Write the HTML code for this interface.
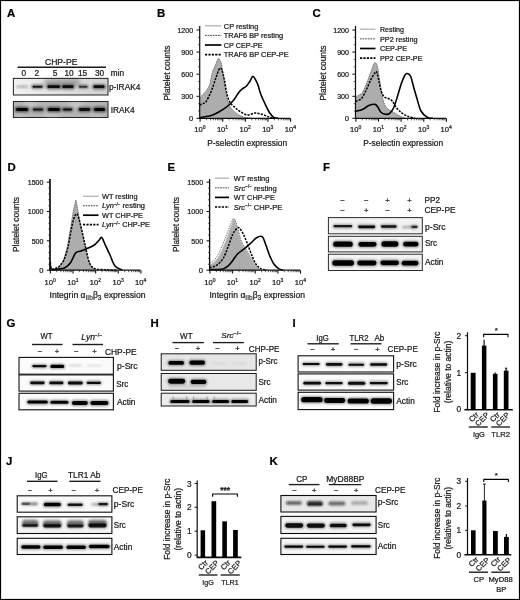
<!DOCTYPE html>
<html lang="en"><head><meta charset="utf-8"><title>Figure</title>
<style>html,body{margin:0;padding:0;background:#fff;overflow:hidden}svg{display:block}svg text{stroke:#222;stroke-width:0.22px;paint-order:stroke}</style>
</head><body>
<svg width="520" height="600" viewBox="0 0 520 600">
<defs><filter id="b1" x="-20%" y="-60%" width="140%" height="220%"><feGaussianBlur stdDeviation="0.7"/></filter><filter id="b2" x="-20%" y="-80%" width="140%" height="260%"><feGaussianBlur stdDeviation="1.2"/></filter><filter id="b3" x="-20%" y="-100%" width="140%" height="300%"><feGaussianBlur stdDeviation="2"/></filter><filter id="soft" x="0" y="0" width="100%" height="100%" filterUnits="userSpaceOnUse"><feGaussianBlur stdDeviation="0.4"/></filter><linearGradient id="gA1" x1="0" x2="1" y1="0" y2="0"><stop offset="0" stop-color="#f2f2f2"/><stop offset="0.45" stop-color="#e0e0e0"/><stop offset="1" stop-color="#d2d2d2"/></linearGradient></defs>
<rect x="0" y="0" width="520" height="600" fill="#fff"/>
<g font-family="Liberation Sans, Arial, Helvetica, sans-serif" fill="#151515" filter="url(#soft)">
<text x="6.90" y="17.10" font-size="11.4" font-weight="bold" fill="#000">A</text>
<text x="156.90" y="17.30" font-size="11.4" font-weight="bold" fill="#000">B</text>
<text x="312.40" y="17.30" font-size="11.4" font-weight="bold" fill="#000">C</text>
<text x="7.40" y="171.10" font-size="11.4" font-weight="bold" fill="#000">D</text>
<text x="167.40" y="171.10" font-size="11.4" font-weight="bold" fill="#000">E</text>
<text x="322.90" y="171.10" font-size="11.4" font-weight="bold" fill="#000">F</text>
<text x="6.40" y="327.00" font-size="11.4" font-weight="bold" fill="#000">G</text>
<text x="150.40" y="327.00" font-size="11.4" font-weight="bold" fill="#000">H</text>
<text x="292.40" y="327.00" font-size="11.4" font-weight="bold" fill="#000">I</text>
<text x="5.90" y="465.10" font-size="11.4" font-weight="bold" fill="#000">J</text>
<text x="269.40" y="465.10" font-size="11.4" font-weight="bold" fill="#000">K</text>
<text x="61.20" y="64.60" font-size="8.3" text-anchor="middle" textLength="32.50" lengthAdjust="spacingAndGlyphs">CHP-PE</text>
<line x1="17.50" y1="67.20" x2="106.00" y2="67.20" stroke="#1a1a1a" stroke-width="1.35" />
<text x="23.80" y="76.10" font-size="8.3" text-anchor="middle">0</text>
<text x="36.80" y="76.10" font-size="8.3" text-anchor="middle">2</text>
<text x="55.00" y="76.10" font-size="8.3" text-anchor="middle">5</text>
<text x="69.00" y="76.10" font-size="8.3" text-anchor="middle">10</text>
<text x="82.50" y="76.10" font-size="8.3" text-anchor="middle">15</text>
<text x="99.50" y="76.10" font-size="8.3" text-anchor="middle">30</text>
<text x="110.80" y="76.10" font-size="8.3" textLength="13.30" lengthAdjust="spacingAndGlyphs">min</text>
<rect x="13.40" y="78.40" width="94.60" height="16.60" fill="url(#gA1)" stroke="#222" stroke-width="1" />
<rect x="44.00" y="79.30" width="36.00" height="6.00" rx="3.00" fill="#000" opacity="0.3" filter="url(#b3)"/>
<rect x="16.00" y="85.60" width="12.00" height="2.40" rx="1.20" fill="#000" opacity="0.25" filter="url(#b2)"/>
<rect x="31.00" y="84.30" width="13.00" height="4.80" rx="2.40" fill="#000" opacity="0.44000000000000006" filter="url(#b2)"/>
<rect x="32.50" y="85.70" width="10.00" height="2.00" rx="1.00" fill="#000" opacity="0.8" filter="url(#b1)"/>
<rect x="46.00" y="83.90" width="15.50" height="5.60" rx="2.80" fill="#000" opacity="0.49500000000000005" filter="url(#b2)"/>
<rect x="47.50" y="85.30" width="12.50" height="2.80" rx="1.40" fill="#000" opacity="0.9" filter="url(#b1)"/>
<rect x="61.00" y="83.90" width="14.00" height="5.60" rx="2.80" fill="#000" opacity="0.5060000000000001" filter="url(#b2)"/>
<rect x="62.50" y="85.30" width="11.00" height="2.80" rx="1.40" fill="#000" opacity="0.92" filter="url(#b1)"/>
<rect x="77.50" y="84.30" width="11.50" height="4.80" rx="2.40" fill="#000" opacity="0.341" filter="url(#b2)"/>
<rect x="79.00" y="85.70" width="8.50" height="2.00" rx="1.00" fill="#000" opacity="0.62" filter="url(#b1)"/>
<rect x="92.00" y="83.90" width="14.00" height="5.60" rx="2.80" fill="#000" opacity="0.49500000000000005" filter="url(#b2)"/>
<rect x="93.50" y="85.30" width="11.00" height="2.80" rx="1.40" fill="#000" opacity="0.9" filter="url(#b1)"/>
<text x="108.90" y="90.00" font-size="8.4" textLength="31.50" lengthAdjust="spacingAndGlyphs">p-IRAK4</text>
<rect x="13.40" y="101.50" width="94.60" height="16.00" fill="#b4b4b4" stroke="#222" stroke-width="1" />
<ellipse cx="30" cy="105" rx="7" ry="2.5" fill="#fff" opacity="0.35" filter="url(#b3)"/>
<ellipse cx="52" cy="114.5" rx="9" ry="2" fill="#fff" opacity="0.3" filter="url(#b3)"/>
<ellipse cx="76" cy="105" rx="8" ry="2.5" fill="#fff" opacity="0.35" filter="url(#b3)"/>
<ellipse cx="96" cy="114.8" rx="7" ry="1.8" fill="#fff" opacity="0.25" filter="url(#b3)"/>
<ellipse cx="20" cy="114.5" rx="5" ry="1.8" fill="#fff" opacity="0.25" filter="url(#b3)"/>
<rect x="14.50" y="106.60" width="15.00" height="5.80" rx="2.90" fill="#000" opacity="0.5225" filter="url(#b2)"/>
<rect x="16.00" y="107.90" width="12.00" height="3.20" rx="1.60" fill="#000" opacity="0.95" filter="url(#b1)"/>
<rect x="31.50" y="107.10" width="13.00" height="4.80" rx="2.40" fill="#000" opacity="0.44000000000000006" filter="url(#b2)"/>
<rect x="33.00" y="108.40" width="10.00" height="2.20" rx="1.10" fill="#000" opacity="0.8" filter="url(#b1)"/>
<rect x="46.50" y="106.60" width="15.00" height="5.80" rx="2.90" fill="#000" opacity="0.5225" filter="url(#b2)"/>
<rect x="48.00" y="107.90" width="12.00" height="3.20" rx="1.60" fill="#000" opacity="0.95" filter="url(#b1)"/>
<rect x="61.50" y="107.10" width="12.00" height="4.80" rx="2.40" fill="#000" opacity="0.4675" filter="url(#b2)"/>
<rect x="63.00" y="108.40" width="9.00" height="2.20" rx="1.10" fill="#000" opacity="0.85" filter="url(#b1)"/>
<rect x="77.50" y="106.80" width="14.00" height="5.40" rx="2.70" fill="#000" opacity="0.49500000000000005" filter="url(#b2)"/>
<rect x="79.00" y="108.10" width="11.00" height="2.80" rx="1.40" fill="#000" opacity="0.9" filter="url(#b1)"/>
<rect x="92.50" y="106.60" width="14.00" height="5.80" rx="2.90" fill="#000" opacity="0.5225" filter="url(#b2)"/>
<rect x="94.00" y="107.90" width="11.00" height="3.20" rx="1.60" fill="#000" opacity="0.95" filter="url(#b1)"/>
<text x="110.70" y="112.90" font-size="8.4" textLength="24.00" lengthAdjust="spacingAndGlyphs">IRAK4</text>
<path d="M199.70,98.10 C200.08,97.67 201.12,96.43 202.00,95.50 C202.88,94.57 204.08,93.58 205.00,92.50 C205.92,91.42 206.67,90.46 207.50,89.00 C208.33,87.54 209.17,86.50 210.00,83.75 C210.83,81.00 211.57,75.62 212.50,72.50 C213.43,69.38 214.67,67.29 215.60,65.00 C216.53,62.71 217.40,59.58 218.10,58.75 C218.80,57.92 219.28,59.17 219.80,60.00 C220.33,60.83 220.70,61.25 221.25,63.75 C221.80,66.25 222.38,70.42 223.10,75.00 C223.82,79.58 224.77,86.67 225.60,91.25 C226.43,95.83 226.95,99.38 228.10,102.50 C229.25,105.62 230.72,107.92 232.50,110.00 C234.28,112.08 236.67,113.75 238.75,115.00 C240.83,116.25 242.79,116.95 245.00,117.50 C247.21,118.05 250.83,118.17 252.00,118.30 L252.00,118.30 L199.70,118.30Z" fill="#adadad" stroke="#b4b4b4" stroke-width="1" stroke-linejoin="round" />
<path d="M199.70,98.10 C200.08,97.67 201.12,96.43 202.00,95.50 C202.88,94.57 204.08,93.58 205.00,92.50 C205.92,91.42 206.67,90.46 207.50,89.00 C208.33,87.54 209.17,86.50 210.00,83.75 C210.83,81.00 211.57,75.62 212.50,72.50 C213.43,69.38 214.67,67.29 215.60,65.00 C216.53,62.71 217.40,59.58 218.10,58.75 C218.80,57.92 219.28,59.17 219.80,60.00 C220.33,60.83 220.70,61.25 221.25,63.75 C221.80,66.25 222.38,70.42 223.10,75.00 C223.82,79.58 224.77,86.67 225.60,91.25 C226.43,95.83 226.95,99.38 228.10,102.50 C229.25,105.62 230.72,107.92 232.50,110.00 C234.28,112.08 236.67,113.75 238.75,115.00 C240.83,116.25 242.79,116.95 245.00,117.50 C247.21,118.05 250.83,118.17 252.00,118.30" fill="none" stroke="#666" stroke-width="0.8" stroke-linejoin="round" stroke-dasharray="1.5 1" />
<path d="M199.70,105.00 C200.25,104.75 201.91,104.12 203.00,103.50 C204.09,102.88 204.88,103.29 206.25,101.25 C207.62,99.21 209.69,95.00 211.25,91.25 C212.81,87.50 214.24,82.50 215.60,78.75 C216.96,75.00 218.35,70.21 219.40,68.75 C220.45,67.29 221.07,68.12 221.90,70.00 C222.73,71.88 223.57,76.04 224.40,80.00 C225.23,83.96 225.97,90.00 226.90,93.75 C227.83,97.50 228.65,100.21 230.00,102.50 C231.35,104.79 233.33,106.00 235.00,107.50 C236.67,109.00 237.92,110.25 240.00,111.50 C242.08,112.75 245.00,114.73 247.50,115.00 C250.00,115.27 252.50,113.20 255.00,113.10 C257.50,113.00 260.21,113.77 262.50,114.40 C264.79,115.03 266.88,116.28 268.75,116.90 C270.62,117.52 272.92,117.90 273.75,118.10" fill="none" stroke="#000" stroke-width="1.5" stroke-linejoin="round" stroke-dasharray="2.2 1.2" />
<path d="M199.70,117.60 C201.62,117.27 207.87,116.66 211.25,115.60 C214.63,114.54 217.29,112.81 220.00,111.25 C222.71,109.69 225.21,108.12 227.50,106.25 C229.79,104.38 231.88,102.29 233.75,100.00 C235.62,97.71 237.29,94.38 238.75,92.50 C240.21,90.62 241.25,89.79 242.50,88.75 C243.75,87.71 245.00,87.50 246.25,86.25 C247.50,85.00 248.86,82.89 250.00,81.25 C251.14,79.61 251.85,75.98 253.10,76.40 C254.35,76.82 256.25,80.86 257.50,83.75 C258.75,86.64 259.35,90.42 260.60,93.75 C261.85,97.08 263.53,100.62 265.00,103.75 C266.47,106.88 267.94,110.24 269.40,112.50 C270.86,114.76 272.32,116.33 273.75,117.30 C275.18,118.27 277.29,118.13 278.00,118.30" fill="none" stroke="#000" stroke-width="1.6" stroke-linejoin="round" />
<line x1="199.70" y1="26.00" x2="199.70" y2="118.90" stroke="#111" stroke-width="1.2" />
<line x1="196.50" y1="30.00" x2="199.70" y2="30.00" stroke="#111" stroke-width="1" />
<text x="193.20" y="32.80" font-size="7.6" text-anchor="end" textLength="15.80" lengthAdjust="spacingAndGlyphs">1200</text>
<line x1="196.50" y1="52.10" x2="199.70" y2="52.10" stroke="#111" stroke-width="1" />
<text x="193.20" y="54.90" font-size="7.6" text-anchor="end" textLength="11.85" lengthAdjust="spacingAndGlyphs">900</text>
<line x1="196.50" y1="74.20" x2="199.70" y2="74.20" stroke="#111" stroke-width="1" />
<text x="193.20" y="77.00" font-size="7.6" text-anchor="end" textLength="11.85" lengthAdjust="spacingAndGlyphs">600</text>
<line x1="196.50" y1="96.30" x2="199.70" y2="96.30" stroke="#111" stroke-width="1" />
<text x="193.20" y="99.10" font-size="7.6" text-anchor="end" textLength="11.85" lengthAdjust="spacingAndGlyphs">300</text>
<line x1="196.50" y1="118.30" x2="199.70" y2="118.30" stroke="#111" stroke-width="1" />
<text x="193.20" y="121.10" font-size="7.6" text-anchor="end">0</text>
<line x1="198.00" y1="37.36" x2="199.70" y2="37.36" stroke="#222" stroke-width="0.7" />
<line x1="198.00" y1="44.72" x2="199.70" y2="44.72" stroke="#222" stroke-width="0.7" />
<line x1="198.00" y1="59.46" x2="199.70" y2="59.46" stroke="#222" stroke-width="0.7" />
<line x1="198.00" y1="66.82" x2="199.70" y2="66.82" stroke="#222" stroke-width="0.7" />
<line x1="198.00" y1="81.56" x2="199.70" y2="81.56" stroke="#222" stroke-width="0.7" />
<line x1="198.00" y1="88.92" x2="199.70" y2="88.92" stroke="#222" stroke-width="0.7" />
<line x1="198.00" y1="103.66" x2="199.70" y2="103.66" stroke="#222" stroke-width="0.7" />
<line x1="198.00" y1="111.02" x2="199.70" y2="111.02" stroke="#222" stroke-width="0.7" />
<line x1="199.10" y1="118.30" x2="290.20" y2="118.30" stroke="#111" stroke-width="1.3" />
<line x1="200.10" y1="118.30" x2="200.10" y2="121.70" stroke="#111" stroke-width="1.1" />
<text x="199.90" y="132.00" font-size="7.6" text-anchor="middle">10<tspan dy="-2.8" font-size="5">0</tspan></text>
<line x1="206.51" y1="118.30" x2="206.51" y2="120.30" stroke="#1a1a1a" stroke-width="0.7" />
<line x1="210.49" y1="118.30" x2="210.49" y2="120.30" stroke="#1a1a1a" stroke-width="0.7" />
<line x1="213.32" y1="118.30" x2="213.32" y2="120.30" stroke="#1a1a1a" stroke-width="0.7" />
<line x1="215.51" y1="118.30" x2="215.51" y2="120.30" stroke="#1a1a1a" stroke-width="0.7" />
<line x1="217.31" y1="118.30" x2="217.31" y2="120.30" stroke="#1a1a1a" stroke-width="0.7" />
<line x1="218.82" y1="118.30" x2="218.82" y2="120.30" stroke="#1a1a1a" stroke-width="0.7" />
<line x1="220.13" y1="118.30" x2="220.13" y2="120.30" stroke="#1a1a1a" stroke-width="0.7" />
<line x1="221.29" y1="118.30" x2="221.29" y2="120.30" stroke="#1a1a1a" stroke-width="0.7" />
<line x1="222.72" y1="118.30" x2="222.72" y2="121.70" stroke="#111" stroke-width="1.1" />
<text x="222.52" y="132.00" font-size="7.6" text-anchor="middle">10<tspan dy="-2.8" font-size="5">1</tspan></text>
<line x1="229.14" y1="118.30" x2="229.14" y2="120.30" stroke="#1a1a1a" stroke-width="0.7" />
<line x1="233.12" y1="118.30" x2="233.12" y2="120.30" stroke="#1a1a1a" stroke-width="0.7" />
<line x1="235.95" y1="118.30" x2="235.95" y2="120.30" stroke="#1a1a1a" stroke-width="0.7" />
<line x1="238.14" y1="118.30" x2="238.14" y2="120.30" stroke="#1a1a1a" stroke-width="0.7" />
<line x1="239.93" y1="118.30" x2="239.93" y2="120.30" stroke="#1a1a1a" stroke-width="0.7" />
<line x1="241.45" y1="118.30" x2="241.45" y2="120.30" stroke="#1a1a1a" stroke-width="0.7" />
<line x1="242.76" y1="118.30" x2="242.76" y2="120.30" stroke="#1a1a1a" stroke-width="0.7" />
<line x1="243.91" y1="118.30" x2="243.91" y2="120.30" stroke="#1a1a1a" stroke-width="0.7" />
<line x1="245.35" y1="118.30" x2="245.35" y2="121.70" stroke="#111" stroke-width="1.1" />
<text x="245.15" y="132.00" font-size="7.6" text-anchor="middle">10<tspan dy="-2.8" font-size="5">2</tspan></text>
<line x1="251.76" y1="118.30" x2="251.76" y2="120.30" stroke="#1a1a1a" stroke-width="0.7" />
<line x1="255.74" y1="118.30" x2="255.74" y2="120.30" stroke="#1a1a1a" stroke-width="0.7" />
<line x1="258.57" y1="118.30" x2="258.57" y2="120.30" stroke="#1a1a1a" stroke-width="0.7" />
<line x1="260.76" y1="118.30" x2="260.76" y2="120.30" stroke="#1a1a1a" stroke-width="0.7" />
<line x1="262.56" y1="118.30" x2="262.56" y2="120.30" stroke="#1a1a1a" stroke-width="0.7" />
<line x1="264.07" y1="118.30" x2="264.07" y2="120.30" stroke="#1a1a1a" stroke-width="0.7" />
<line x1="265.38" y1="118.30" x2="265.38" y2="120.30" stroke="#1a1a1a" stroke-width="0.7" />
<line x1="266.54" y1="118.30" x2="266.54" y2="120.30" stroke="#1a1a1a" stroke-width="0.7" />
<line x1="267.97" y1="118.30" x2="267.97" y2="121.70" stroke="#111" stroke-width="1.1" />
<text x="267.77" y="132.00" font-size="7.6" text-anchor="middle">10<tspan dy="-2.8" font-size="5">3</tspan></text>
<line x1="274.39" y1="118.30" x2="274.39" y2="120.30" stroke="#1a1a1a" stroke-width="0.7" />
<line x1="278.37" y1="118.30" x2="278.37" y2="120.30" stroke="#1a1a1a" stroke-width="0.7" />
<line x1="281.20" y1="118.30" x2="281.20" y2="120.30" stroke="#1a1a1a" stroke-width="0.7" />
<line x1="283.39" y1="118.30" x2="283.39" y2="120.30" stroke="#1a1a1a" stroke-width="0.7" />
<line x1="285.18" y1="118.30" x2="285.18" y2="120.30" stroke="#1a1a1a" stroke-width="0.7" />
<line x1="286.70" y1="118.30" x2="286.70" y2="120.30" stroke="#1a1a1a" stroke-width="0.7" />
<line x1="288.01" y1="118.30" x2="288.01" y2="120.30" stroke="#1a1a1a" stroke-width="0.7" />
<line x1="289.16" y1="118.30" x2="289.16" y2="120.30" stroke="#1a1a1a" stroke-width="0.7" />
<line x1="290.60" y1="118.30" x2="290.60" y2="121.70" stroke="#111" stroke-width="1.1" />
<text x="290.40" y="132.00" font-size="7.6" text-anchor="middle">10<tspan dy="-2.8" font-size="5">4</tspan></text>
<text x="169.60" y="73.00" font-size="8.6" text-anchor="middle" textLength="55.00" lengthAdjust="spacingAndGlyphs" transform="rotate(-90 169.60 73.00)">Platelet counts</text>
<text x="207.20" y="145.90" font-size="8.8" textLength="80.00" lengthAdjust="spacingAndGlyphs">P-selectin expression</text>
<line x1="205.00" y1="25.80" x2="221.30" y2="25.80" stroke="#b8b8b8" stroke-width="1.4" />
<text x="223.80" y="28.50" font-size="7.5" textLength="34.50" lengthAdjust="spacingAndGlyphs">CP resting</text>
<line x1="205.00" y1="35.40" x2="221.30" y2="35.40" stroke="#444" stroke-width="1.0" stroke-dasharray="1.7 0.9"/>
<text x="223.80" y="38.10" font-size="7.5" textLength="59.30" lengthAdjust="spacingAndGlyphs">TRAF6 BP resting</text>
<line x1="205.00" y1="45.00" x2="221.30" y2="45.00" stroke="#000" stroke-width="1.7" />
<text x="223.80" y="47.70" font-size="7.5" textLength="38.80" lengthAdjust="spacingAndGlyphs">CP CEP-PE</text>
<line x1="205.00" y1="54.60" x2="221.30" y2="54.60" stroke="#000" stroke-width="1.6" stroke-dasharray="2.2 1.2"/>
<text x="223.80" y="57.30" font-size="7.5" textLength="64.80" lengthAdjust="spacingAndGlyphs">TRAF6 BP CEP-PE</text>
<path d="M355.50,97.50 C356.08,97.08 357.83,95.83 359.00,95.00 C360.17,94.17 361.08,94.79 362.50,92.50 C363.92,90.21 366.04,84.79 367.50,81.25 C368.96,77.71 370.10,74.28 371.25,71.25 C372.40,68.22 373.46,64.14 374.40,63.10 C375.34,62.06 376.17,63.02 376.90,65.00 C377.62,66.98 378.02,70.62 378.75,75.00 C379.48,79.38 380.42,86.67 381.25,91.25 C382.08,95.83 382.71,99.58 383.75,102.50 C384.79,105.42 385.83,107.08 387.50,108.75 C389.17,110.42 391.67,111.25 393.75,112.50 C395.83,113.75 398.12,115.28 400.00,116.25 C401.88,117.22 404.17,117.96 405.00,118.30 L405.00,118.30 L355.50,118.30Z" fill="#adadad" stroke="#b4b4b4" stroke-width="1" stroke-linejoin="round" />
<path d="M355.50,97.50 C356.08,97.08 357.83,95.83 359.00,95.00 C360.17,94.17 361.08,94.79 362.50,92.50 C363.92,90.21 366.04,84.79 367.50,81.25 C368.96,77.71 370.10,74.28 371.25,71.25 C372.40,68.22 373.46,64.14 374.40,63.10 C375.34,62.06 376.17,63.02 376.90,65.00 C377.62,66.98 378.02,70.62 378.75,75.00 C379.48,79.38 380.42,86.67 381.25,91.25 C382.08,95.83 382.71,99.58 383.75,102.50 C384.79,105.42 385.83,107.08 387.50,108.75 C389.17,110.42 391.67,111.25 393.75,112.50 C395.83,113.75 398.12,115.28 400.00,116.25 C401.88,117.22 404.17,117.96 405.00,118.30" fill="none" stroke="#666" stroke-width="0.8" stroke-linejoin="round" stroke-dasharray="1.5 1" />
<path d="M355.50,101.25 C356.46,100.83 359.46,100.62 361.25,98.75 C363.04,96.88 364.69,93.12 366.25,90.00 C367.81,86.88 369.24,82.71 370.60,80.00 C371.96,77.29 373.42,75.10 374.40,73.75 C375.38,72.40 375.77,70.86 376.50,71.90 C377.23,72.94 377.96,76.78 378.75,80.00 C379.54,83.22 380.31,88.43 381.25,91.25 C382.19,94.07 383.15,95.65 384.40,96.90 C385.65,98.15 387.40,98.03 388.75,98.75 C390.10,99.47 391.25,99.79 392.50,101.25 C393.75,102.71 394.79,105.62 396.25,107.50 C397.71,109.38 399.38,111.04 401.25,112.50 C403.12,113.96 405.21,115.32 407.50,116.25 C409.79,117.18 413.75,117.79 415.00,118.10" fill="none" stroke="#000" stroke-width="1.5" stroke-linejoin="round" stroke-dasharray="2.2 1.2" />
<path d="M355.50,111.25 C356.67,110.94 360.29,110.34 362.50,109.40 C364.71,108.46 366.67,106.43 368.75,105.60 C370.83,104.77 373.44,104.08 375.00,104.40 C376.56,104.72 377.06,106.15 378.10,107.50 C379.14,108.85 379.89,111.35 381.25,112.50 C382.61,113.65 384.79,114.30 386.25,114.40 C387.71,114.50 388.75,114.25 390.00,113.10 C391.25,111.95 392.50,110.31 393.75,107.50 C395.00,104.69 396.25,100.21 397.50,96.25 C398.75,92.29 400.00,87.29 401.25,83.75 C402.50,80.21 404.00,76.71 405.00,75.00 C406.00,73.29 406.32,73.29 407.25,73.50 C408.18,73.71 409.52,73.92 410.60,76.25 C411.68,78.58 412.77,84.04 413.75,87.50 C414.73,90.96 415.29,93.08 416.50,97.00 C417.71,100.92 419.17,107.58 421.00,111.00 C422.83,114.42 425.50,116.28 427.50,117.50 C429.50,118.72 432.08,118.17 433.00,118.30" fill="none" stroke="#000" stroke-width="1.6" stroke-linejoin="round" />
<line x1="355.50" y1="26.00" x2="355.50" y2="118.90" stroke="#111" stroke-width="1.2" />
<line x1="352.30" y1="30.00" x2="355.50" y2="30.00" stroke="#111" stroke-width="1" />
<text x="349.00" y="32.80" font-size="7.6" text-anchor="end" textLength="15.80" lengthAdjust="spacingAndGlyphs">1200</text>
<line x1="352.30" y1="52.10" x2="355.50" y2="52.10" stroke="#111" stroke-width="1" />
<text x="349.00" y="54.90" font-size="7.6" text-anchor="end" textLength="11.85" lengthAdjust="spacingAndGlyphs">900</text>
<line x1="352.30" y1="74.20" x2="355.50" y2="74.20" stroke="#111" stroke-width="1" />
<text x="349.00" y="77.00" font-size="7.6" text-anchor="end" textLength="11.85" lengthAdjust="spacingAndGlyphs">600</text>
<line x1="352.30" y1="96.30" x2="355.50" y2="96.30" stroke="#111" stroke-width="1" />
<text x="349.00" y="99.10" font-size="7.6" text-anchor="end" textLength="11.85" lengthAdjust="spacingAndGlyphs">300</text>
<line x1="352.30" y1="118.30" x2="355.50" y2="118.30" stroke="#111" stroke-width="1" />
<text x="349.00" y="121.10" font-size="7.6" text-anchor="end">0</text>
<line x1="353.80" y1="37.36" x2="355.50" y2="37.36" stroke="#222" stroke-width="0.7" />
<line x1="353.80" y1="44.72" x2="355.50" y2="44.72" stroke="#222" stroke-width="0.7" />
<line x1="353.80" y1="59.46" x2="355.50" y2="59.46" stroke="#222" stroke-width="0.7" />
<line x1="353.80" y1="66.82" x2="355.50" y2="66.82" stroke="#222" stroke-width="0.7" />
<line x1="353.80" y1="81.56" x2="355.50" y2="81.56" stroke="#222" stroke-width="0.7" />
<line x1="353.80" y1="88.92" x2="355.50" y2="88.92" stroke="#222" stroke-width="0.7" />
<line x1="353.80" y1="103.66" x2="355.50" y2="103.66" stroke="#222" stroke-width="0.7" />
<line x1="353.80" y1="111.02" x2="355.50" y2="111.02" stroke="#222" stroke-width="0.7" />
<line x1="354.90" y1="118.30" x2="446.00" y2="118.30" stroke="#111" stroke-width="1.3" />
<line x1="355.90" y1="118.30" x2="355.90" y2="121.70" stroke="#111" stroke-width="1.1" />
<text x="355.70" y="132.00" font-size="7.6" text-anchor="middle">10<tspan dy="-2.8" font-size="5">0</tspan></text>
<line x1="362.31" y1="118.30" x2="362.31" y2="120.30" stroke="#1a1a1a" stroke-width="0.7" />
<line x1="366.29" y1="118.30" x2="366.29" y2="120.30" stroke="#1a1a1a" stroke-width="0.7" />
<line x1="369.12" y1="118.30" x2="369.12" y2="120.30" stroke="#1a1a1a" stroke-width="0.7" />
<line x1="371.31" y1="118.30" x2="371.31" y2="120.30" stroke="#1a1a1a" stroke-width="0.7" />
<line x1="373.11" y1="118.30" x2="373.11" y2="120.30" stroke="#1a1a1a" stroke-width="0.7" />
<line x1="374.62" y1="118.30" x2="374.62" y2="120.30" stroke="#1a1a1a" stroke-width="0.7" />
<line x1="375.93" y1="118.30" x2="375.93" y2="120.30" stroke="#1a1a1a" stroke-width="0.7" />
<line x1="377.09" y1="118.30" x2="377.09" y2="120.30" stroke="#1a1a1a" stroke-width="0.7" />
<line x1="378.52" y1="118.30" x2="378.52" y2="121.70" stroke="#111" stroke-width="1.1" />
<text x="378.32" y="132.00" font-size="7.6" text-anchor="middle">10<tspan dy="-2.8" font-size="5">1</tspan></text>
<line x1="384.94" y1="118.30" x2="384.94" y2="120.30" stroke="#1a1a1a" stroke-width="0.7" />
<line x1="388.92" y1="118.30" x2="388.92" y2="120.30" stroke="#1a1a1a" stroke-width="0.7" />
<line x1="391.75" y1="118.30" x2="391.75" y2="120.30" stroke="#1a1a1a" stroke-width="0.7" />
<line x1="393.94" y1="118.30" x2="393.94" y2="120.30" stroke="#1a1a1a" stroke-width="0.7" />
<line x1="395.73" y1="118.30" x2="395.73" y2="120.30" stroke="#1a1a1a" stroke-width="0.7" />
<line x1="397.25" y1="118.30" x2="397.25" y2="120.30" stroke="#1a1a1a" stroke-width="0.7" />
<line x1="398.56" y1="118.30" x2="398.56" y2="120.30" stroke="#1a1a1a" stroke-width="0.7" />
<line x1="399.71" y1="118.30" x2="399.71" y2="120.30" stroke="#1a1a1a" stroke-width="0.7" />
<line x1="401.15" y1="118.30" x2="401.15" y2="121.70" stroke="#111" stroke-width="1.1" />
<text x="400.95" y="132.00" font-size="7.6" text-anchor="middle">10<tspan dy="-2.8" font-size="5">2</tspan></text>
<line x1="407.56" y1="118.30" x2="407.56" y2="120.30" stroke="#1a1a1a" stroke-width="0.7" />
<line x1="411.54" y1="118.30" x2="411.54" y2="120.30" stroke="#1a1a1a" stroke-width="0.7" />
<line x1="414.37" y1="118.30" x2="414.37" y2="120.30" stroke="#1a1a1a" stroke-width="0.7" />
<line x1="416.56" y1="118.30" x2="416.56" y2="120.30" stroke="#1a1a1a" stroke-width="0.7" />
<line x1="418.36" y1="118.30" x2="418.36" y2="120.30" stroke="#1a1a1a" stroke-width="0.7" />
<line x1="419.87" y1="118.30" x2="419.87" y2="120.30" stroke="#1a1a1a" stroke-width="0.7" />
<line x1="421.18" y1="118.30" x2="421.18" y2="120.30" stroke="#1a1a1a" stroke-width="0.7" />
<line x1="422.34" y1="118.30" x2="422.34" y2="120.30" stroke="#1a1a1a" stroke-width="0.7" />
<line x1="423.77" y1="118.30" x2="423.77" y2="121.70" stroke="#111" stroke-width="1.1" />
<text x="423.57" y="132.00" font-size="7.6" text-anchor="middle">10<tspan dy="-2.8" font-size="5">3</tspan></text>
<line x1="430.19" y1="118.30" x2="430.19" y2="120.30" stroke="#1a1a1a" stroke-width="0.7" />
<line x1="434.17" y1="118.30" x2="434.17" y2="120.30" stroke="#1a1a1a" stroke-width="0.7" />
<line x1="437.00" y1="118.30" x2="437.00" y2="120.30" stroke="#1a1a1a" stroke-width="0.7" />
<line x1="439.19" y1="118.30" x2="439.19" y2="120.30" stroke="#1a1a1a" stroke-width="0.7" />
<line x1="440.98" y1="118.30" x2="440.98" y2="120.30" stroke="#1a1a1a" stroke-width="0.7" />
<line x1="442.50" y1="118.30" x2="442.50" y2="120.30" stroke="#1a1a1a" stroke-width="0.7" />
<line x1="443.81" y1="118.30" x2="443.81" y2="120.30" stroke="#1a1a1a" stroke-width="0.7" />
<line x1="444.96" y1="118.30" x2="444.96" y2="120.30" stroke="#1a1a1a" stroke-width="0.7" />
<line x1="446.40" y1="118.30" x2="446.40" y2="121.70" stroke="#111" stroke-width="1.1" />
<text x="446.20" y="132.00" font-size="7.6" text-anchor="middle">10<tspan dy="-2.8" font-size="5">4</tspan></text>
<text x="325.90" y="73.00" font-size="8.6" text-anchor="middle" textLength="55.00" lengthAdjust="spacingAndGlyphs" transform="rotate(-90 325.90 73.00)">Platelet counts</text>
<text x="363.20" y="145.90" font-size="8.8" textLength="80.00" lengthAdjust="spacingAndGlyphs">P-selectin expression</text>
<line x1="360.00" y1="29.20" x2="375.50" y2="29.20" stroke="#b8b8b8" stroke-width="1.4" />
<text x="380.00" y="31.90" font-size="7.5" textLength="24.00" lengthAdjust="spacingAndGlyphs">Resting</text>
<line x1="360.00" y1="38.85" x2="375.50" y2="38.85" stroke="#444" stroke-width="1.0" stroke-dasharray="1.7 0.9"/>
<text x="380.00" y="41.55" font-size="7.5" textLength="37.50" lengthAdjust="spacingAndGlyphs">PP2 resting</text>
<line x1="360.00" y1="48.50" x2="375.50" y2="48.50" stroke="#000" stroke-width="1.7" />
<text x="380.00" y="51.20" font-size="7.5" textLength="27.00" lengthAdjust="spacingAndGlyphs">CEP-PE</text>
<line x1="360.00" y1="58.15" x2="375.50" y2="58.15" stroke="#000" stroke-width="1.6" stroke-dasharray="2.2 1.2"/>
<text x="380.00" y="60.85" font-size="7.5" textLength="42.50" lengthAdjust="spacingAndGlyphs">PP2 CEP-PE</text>
<path d="M50.00,262.00 L51.00,268.00 L53.00,269.70 L58.30,267.70 L63.70,260.30 L67.70,245.70 L71.00,225.70 L73.70,209.70 L75.90,200.30 L77.70,209.70 L80.30,225.70 L83.70,241.70 L87.00,256.30 L90.30,265.70 L94.30,269.70 L94.30,270.20 L50.00,270.20Z" fill="#adadad" stroke="#b4b4b4" stroke-width="1" stroke-linejoin="round" />
<path d="M53.00,269.70 L58.30,267.70 L63.70,260.30 L67.70,245.70 L71.00,225.70 L73.70,209.70 L75.90,200.30 L77.70,209.70 L80.30,225.70 L83.70,241.70 L87.00,256.30 L90.30,265.70 L94.30,269.70" fill="none" stroke="#666" stroke-width="0.8" stroke-linejoin="round" stroke-dasharray="1.5 1" />
<path d="M50.50,266.00 C50.70,266.50 50.40,268.83 51.70,269.00 C53.00,269.17 56.30,268.45 58.30,267.00 C60.30,265.55 62.13,263.42 63.70,260.30 C65.27,257.18 66.48,253.18 67.70,248.30 C68.92,243.42 70.00,235.88 71.00,231.00 C72.00,226.12 72.75,221.88 73.70,219.00 C74.65,216.12 75.82,213.70 76.70,213.70 C77.58,213.70 78.17,216.33 79.00,219.00 C79.83,221.67 80.70,225.48 81.70,229.70 C82.70,233.92 83.90,239.42 85.00,244.30 C86.10,249.18 87.30,255.43 88.30,259.00 C89.30,262.57 89.77,264.03 91.00,265.70 C92.23,267.37 93.37,268.33 95.70,269.00 C98.03,269.67 101.45,269.50 105.00,269.70 C108.55,269.90 115.00,270.12 117.00,270.20" fill="none" stroke="#000" stroke-width="1.5" stroke-linejoin="round" stroke-dasharray="2.2 1.2" />
<path d="M50.30,262.00 C50.45,263.22 49.87,268.13 51.20,269.30 C52.53,270.47 56.00,269.27 58.30,269.00 C60.60,268.73 63.00,268.70 65.00,267.70 C67.00,266.70 68.85,264.90 70.30,263.00 C71.75,261.10 72.70,258.08 73.70,256.30 C74.70,254.52 75.08,253.18 76.30,252.30 C77.52,251.42 79.10,251.67 81.00,251.00 C82.90,250.33 85.48,249.30 87.70,248.30 C89.92,247.30 92.42,246.33 94.30,245.00 C96.18,243.67 97.77,241.57 99.00,240.30 C100.23,239.03 100.70,236.73 101.70,237.40 C102.70,238.07 103.62,241.37 105.00,244.30 C106.38,247.23 108.33,251.38 110.00,255.00 C111.67,258.62 112.92,263.47 115.00,266.00 C117.08,268.53 121.25,269.50 122.50,270.20" fill="none" stroke="#000" stroke-width="1.6" stroke-linejoin="round" />
<line x1="50.00" y1="179.00" x2="50.00" y2="270.80" stroke="#111" stroke-width="1.7" />
<line x1="46.80" y1="182.20" x2="50.00" y2="182.20" stroke="#111" stroke-width="1" />
<text x="43.50" y="185.00" font-size="7.6" text-anchor="end" textLength="15.80" lengthAdjust="spacingAndGlyphs">1500</text>
<line x1="46.80" y1="211.50" x2="50.00" y2="211.50" stroke="#111" stroke-width="1" />
<text x="43.50" y="214.30" font-size="7.6" text-anchor="end" textLength="15.80" lengthAdjust="spacingAndGlyphs">1000</text>
<line x1="46.80" y1="240.80" x2="50.00" y2="240.80" stroke="#111" stroke-width="1" />
<text x="43.50" y="243.60" font-size="7.6" text-anchor="end" textLength="11.85" lengthAdjust="spacingAndGlyphs">500</text>
<line x1="46.80" y1="270.20" x2="50.00" y2="270.20" stroke="#111" stroke-width="1" />
<text x="43.50" y="273.00" font-size="7.6" text-anchor="end">0</text>
<line x1="48.30" y1="188.07" x2="50.00" y2="188.07" stroke="#222" stroke-width="0.7" />
<line x1="48.30" y1="193.93" x2="50.00" y2="193.93" stroke="#222" stroke-width="0.7" />
<line x1="48.30" y1="199.80" x2="50.00" y2="199.80" stroke="#222" stroke-width="0.7" />
<line x1="48.30" y1="205.67" x2="50.00" y2="205.67" stroke="#222" stroke-width="0.7" />
<line x1="48.30" y1="217.37" x2="50.00" y2="217.37" stroke="#222" stroke-width="0.7" />
<line x1="48.30" y1="223.23" x2="50.00" y2="223.23" stroke="#222" stroke-width="0.7" />
<line x1="48.30" y1="229.10" x2="50.00" y2="229.10" stroke="#222" stroke-width="0.7" />
<line x1="48.30" y1="234.97" x2="50.00" y2="234.97" stroke="#222" stroke-width="0.7" />
<line x1="48.30" y1="246.67" x2="50.00" y2="246.67" stroke="#222" stroke-width="0.7" />
<line x1="48.30" y1="252.53" x2="50.00" y2="252.53" stroke="#222" stroke-width="0.7" />
<line x1="48.30" y1="258.40" x2="50.00" y2="258.40" stroke="#222" stroke-width="0.7" />
<line x1="48.30" y1="264.27" x2="50.00" y2="264.27" stroke="#222" stroke-width="0.7" />
<line x1="49.40" y1="270.20" x2="140.50" y2="270.20" stroke="#111" stroke-width="1.3" />
<line x1="50.40" y1="270.20" x2="50.40" y2="273.60" stroke="#111" stroke-width="1.1" />
<text x="50.20" y="284.60" font-size="7.6" text-anchor="middle">10<tspan dy="-2.8" font-size="5">0</tspan></text>
<line x1="56.81" y1="270.20" x2="56.81" y2="272.20" stroke="#1a1a1a" stroke-width="0.7" />
<line x1="60.79" y1="270.20" x2="60.79" y2="272.20" stroke="#1a1a1a" stroke-width="0.7" />
<line x1="63.62" y1="270.20" x2="63.62" y2="272.20" stroke="#1a1a1a" stroke-width="0.7" />
<line x1="65.81" y1="270.20" x2="65.81" y2="272.20" stroke="#1a1a1a" stroke-width="0.7" />
<line x1="67.61" y1="270.20" x2="67.61" y2="272.20" stroke="#1a1a1a" stroke-width="0.7" />
<line x1="69.12" y1="270.20" x2="69.12" y2="272.20" stroke="#1a1a1a" stroke-width="0.7" />
<line x1="70.43" y1="270.20" x2="70.43" y2="272.20" stroke="#1a1a1a" stroke-width="0.7" />
<line x1="71.59" y1="270.20" x2="71.59" y2="272.20" stroke="#1a1a1a" stroke-width="0.7" />
<line x1="73.03" y1="270.20" x2="73.03" y2="273.60" stroke="#111" stroke-width="1.1" />
<text x="72.83" y="284.60" font-size="7.6" text-anchor="middle">10<tspan dy="-2.8" font-size="5">1</tspan></text>
<line x1="79.44" y1="270.20" x2="79.44" y2="272.20" stroke="#1a1a1a" stroke-width="0.7" />
<line x1="83.42" y1="270.20" x2="83.42" y2="272.20" stroke="#1a1a1a" stroke-width="0.7" />
<line x1="86.25" y1="270.20" x2="86.25" y2="272.20" stroke="#1a1a1a" stroke-width="0.7" />
<line x1="88.44" y1="270.20" x2="88.44" y2="272.20" stroke="#1a1a1a" stroke-width="0.7" />
<line x1="90.23" y1="270.20" x2="90.23" y2="272.20" stroke="#1a1a1a" stroke-width="0.7" />
<line x1="91.75" y1="270.20" x2="91.75" y2="272.20" stroke="#1a1a1a" stroke-width="0.7" />
<line x1="93.06" y1="270.20" x2="93.06" y2="272.20" stroke="#1a1a1a" stroke-width="0.7" />
<line x1="94.21" y1="270.20" x2="94.21" y2="272.20" stroke="#1a1a1a" stroke-width="0.7" />
<line x1="95.65" y1="270.20" x2="95.65" y2="273.60" stroke="#111" stroke-width="1.1" />
<text x="95.45" y="284.60" font-size="7.6" text-anchor="middle">10<tspan dy="-2.8" font-size="5">2</tspan></text>
<line x1="102.06" y1="270.20" x2="102.06" y2="272.20" stroke="#1a1a1a" stroke-width="0.7" />
<line x1="106.04" y1="270.20" x2="106.04" y2="272.20" stroke="#1a1a1a" stroke-width="0.7" />
<line x1="108.87" y1="270.20" x2="108.87" y2="272.20" stroke="#1a1a1a" stroke-width="0.7" />
<line x1="111.06" y1="270.20" x2="111.06" y2="272.20" stroke="#1a1a1a" stroke-width="0.7" />
<line x1="112.86" y1="270.20" x2="112.86" y2="272.20" stroke="#1a1a1a" stroke-width="0.7" />
<line x1="114.37" y1="270.20" x2="114.37" y2="272.20" stroke="#1a1a1a" stroke-width="0.7" />
<line x1="115.68" y1="270.20" x2="115.68" y2="272.20" stroke="#1a1a1a" stroke-width="0.7" />
<line x1="116.84" y1="270.20" x2="116.84" y2="272.20" stroke="#1a1a1a" stroke-width="0.7" />
<line x1="118.28" y1="270.20" x2="118.28" y2="273.60" stroke="#111" stroke-width="1.1" />
<text x="118.08" y="284.60" font-size="7.6" text-anchor="middle">10<tspan dy="-2.8" font-size="5">3</tspan></text>
<line x1="124.69" y1="270.20" x2="124.69" y2="272.20" stroke="#1a1a1a" stroke-width="0.7" />
<line x1="128.67" y1="270.20" x2="128.67" y2="272.20" stroke="#1a1a1a" stroke-width="0.7" />
<line x1="131.50" y1="270.20" x2="131.50" y2="272.20" stroke="#1a1a1a" stroke-width="0.7" />
<line x1="133.69" y1="270.20" x2="133.69" y2="272.20" stroke="#1a1a1a" stroke-width="0.7" />
<line x1="135.48" y1="270.20" x2="135.48" y2="272.20" stroke="#1a1a1a" stroke-width="0.7" />
<line x1="137.00" y1="270.20" x2="137.00" y2="272.20" stroke="#1a1a1a" stroke-width="0.7" />
<line x1="138.31" y1="270.20" x2="138.31" y2="272.20" stroke="#1a1a1a" stroke-width="0.7" />
<line x1="139.46" y1="270.20" x2="139.46" y2="272.20" stroke="#1a1a1a" stroke-width="0.7" />
<line x1="140.90" y1="270.20" x2="140.90" y2="273.60" stroke="#111" stroke-width="1.1" />
<text x="140.70" y="284.60" font-size="7.6" text-anchor="middle">10<tspan dy="-2.8" font-size="5">4</tspan></text>
<text x="19.40" y="224.50" font-size="8.6" text-anchor="middle" textLength="55.00" lengthAdjust="spacingAndGlyphs" transform="rotate(-90 19.40 224.50)">Platelet counts</text>
<text x="49.50" y="298.00" font-size="8.8" textLength="96.00" lengthAdjust="spacingAndGlyphs">Integrin α<tspan dy="2" font-size="6.8" fill="#444">IIb</tspan><tspan dy="-2">β</tspan><tspan dy="2" font-size="6.8">3</tspan><tspan dy="-2"> expression</tspan></text>
<line x1="83.00" y1="196.30" x2="98.50" y2="196.30" stroke="#b8b8b8" stroke-width="1.4" />
<text x="102.00" y="199.00" font-size="7.5" textLength="35.50" lengthAdjust="spacingAndGlyphs">WT resting</text>
<line x1="83.00" y1="205.75" x2="98.50" y2="205.75" stroke="#444" stroke-width="1.0" stroke-dasharray="1.7 0.9"/>
<text x="102.00" y="208.45" font-size="7.5" textLength="43.00" lengthAdjust="spacingAndGlyphs"><tspan font-style="italic">Lyn</tspan><tspan dy="-2.6" font-size="4.6">−/−</tspan><tspan dy="2.6"> resting</tspan></text>
<line x1="83.00" y1="215.20" x2="98.50" y2="215.20" stroke="#000" stroke-width="1.7" />
<text x="102.00" y="217.90" font-size="7.5" textLength="41.00" lengthAdjust="spacingAndGlyphs">WT CHP-PE</text>
<line x1="83.00" y1="224.65" x2="98.50" y2="224.65" stroke="#000" stroke-width="1.6" stroke-dasharray="2.2 1.2"/>
<text x="102.00" y="227.35" font-size="7.5" textLength="48.00" lengthAdjust="spacingAndGlyphs"><tspan font-style="italic">Lyn</tspan><tspan dy="-2.6" font-size="4.6">−/−</tspan><tspan dy="2.6"> CHP-PE</tspan></text>
<path d="M209.60,265.30 C210.47,264.75 212.85,264.18 214.80,262.00 C216.75,259.82 219.12,256.55 221.30,252.20 C223.48,247.85 226.12,240.53 227.90,235.90 C229.68,231.27 230.97,227.13 232.00,224.40 C233.03,221.67 233.28,218.95 234.10,219.50 C234.92,220.05 235.75,223.88 236.90,227.70 C238.05,231.52 239.50,238.58 241.00,242.40 C242.50,246.22 244.27,247.88 245.90,250.60 C247.53,253.32 249.17,256.12 250.80,258.70 C252.43,261.28 254.20,264.18 255.70,266.10 C257.20,268.02 259.12,269.52 259.80,270.20 L259.80,270.20 L209.60,270.20Z" fill="#adadad" stroke="#b4b4b4" stroke-width="1" stroke-linejoin="round" />
<path d="M209.60,263.50 C210.33,263.00 212.27,262.58 214.00,260.50 C215.73,258.42 217.92,255.25 220.00,251.00 C222.08,246.75 224.67,239.58 226.50,235.00 C228.33,230.42 229.73,226.25 231.00,223.50 C232.27,220.75 233.00,217.83 234.10,218.50 C235.20,219.17 236.32,223.58 237.60,227.50 C238.88,231.42 240.28,238.20 241.80,242.00 C243.32,245.80 245.07,247.58 246.70,250.30 C248.33,253.02 249.97,255.68 251.60,258.30 C253.23,260.92 255.00,264.05 256.50,266.00 C258.00,267.95 259.92,269.33 260.60,270.00" fill="none" stroke="#666" stroke-width="0.9" stroke-linejoin="round" stroke-dasharray="1.5 1" />
<path d="M209.60,267.70 C210.73,267.30 214.17,266.80 216.40,265.30 C218.63,263.80 221.08,261.70 223.00,258.70 C224.92,255.70 226.27,251.38 227.90,247.30 C229.53,243.22 231.30,237.33 232.80,234.20 C234.30,231.07 235.82,229.53 236.90,228.50 C237.98,227.47 238.22,227.05 239.30,228.00 C240.38,228.95 242.03,231.53 243.40,234.20 C244.77,236.87 246.13,240.58 247.50,244.00 C248.87,247.42 250.23,251.42 251.60,254.70 C252.97,257.98 254.20,261.38 255.70,263.70 C257.20,266.02 258.70,267.52 260.60,268.60 C262.50,269.68 266.02,269.93 267.10,270.20" fill="none" stroke="#000" stroke-width="1.5" stroke-linejoin="round" stroke-dasharray="2.2 1.2" />
<path d="M209.60,269.50 C211.55,269.48 218.25,269.97 221.30,269.40 C224.35,268.83 225.98,267.60 227.90,266.10 C229.82,264.60 231.17,262.45 232.80,260.40 C234.43,258.35 235.80,255.72 237.70,253.80 C239.60,251.88 242.02,250.67 244.20,248.90 C246.38,247.13 248.75,245.05 250.80,243.20 C252.85,241.35 254.60,238.88 256.50,237.80 C258.40,236.72 260.70,235.67 262.20,236.70 C263.70,237.73 264.27,240.87 265.50,244.00 C266.73,247.13 268.23,252.22 269.60,255.50 C270.97,258.78 272.20,261.52 273.70,263.70 C275.20,265.88 276.97,267.52 278.60,268.60 C280.23,269.68 282.68,269.93 283.50,270.20" fill="none" stroke="#000" stroke-width="1.6" stroke-linejoin="round" />
<line x1="209.60" y1="179.00" x2="209.60" y2="270.80" stroke="#111" stroke-width="1.3" />
<line x1="206.40" y1="182.20" x2="209.60" y2="182.20" stroke="#111" stroke-width="1" />
<text x="203.10" y="185.00" font-size="7.6" text-anchor="end" textLength="15.80" lengthAdjust="spacingAndGlyphs">1500</text>
<line x1="206.40" y1="211.50" x2="209.60" y2="211.50" stroke="#111" stroke-width="1" />
<text x="203.10" y="214.30" font-size="7.6" text-anchor="end" textLength="15.80" lengthAdjust="spacingAndGlyphs">1000</text>
<line x1="206.40" y1="240.80" x2="209.60" y2="240.80" stroke="#111" stroke-width="1" />
<text x="203.10" y="243.60" font-size="7.6" text-anchor="end" textLength="11.85" lengthAdjust="spacingAndGlyphs">500</text>
<line x1="206.40" y1="270.20" x2="209.60" y2="270.20" stroke="#111" stroke-width="1" />
<text x="203.10" y="273.00" font-size="7.6" text-anchor="end">0</text>
<line x1="207.90" y1="188.07" x2="209.60" y2="188.07" stroke="#222" stroke-width="0.7" />
<line x1="207.90" y1="193.93" x2="209.60" y2="193.93" stroke="#222" stroke-width="0.7" />
<line x1="207.90" y1="199.80" x2="209.60" y2="199.80" stroke="#222" stroke-width="0.7" />
<line x1="207.90" y1="205.67" x2="209.60" y2="205.67" stroke="#222" stroke-width="0.7" />
<line x1="207.90" y1="217.37" x2="209.60" y2="217.37" stroke="#222" stroke-width="0.7" />
<line x1="207.90" y1="223.23" x2="209.60" y2="223.23" stroke="#222" stroke-width="0.7" />
<line x1="207.90" y1="229.10" x2="209.60" y2="229.10" stroke="#222" stroke-width="0.7" />
<line x1="207.90" y1="234.97" x2="209.60" y2="234.97" stroke="#222" stroke-width="0.7" />
<line x1="207.90" y1="246.67" x2="209.60" y2="246.67" stroke="#222" stroke-width="0.7" />
<line x1="207.90" y1="252.53" x2="209.60" y2="252.53" stroke="#222" stroke-width="0.7" />
<line x1="207.90" y1="258.40" x2="209.60" y2="258.40" stroke="#222" stroke-width="0.7" />
<line x1="207.90" y1="264.27" x2="209.60" y2="264.27" stroke="#222" stroke-width="0.7" />
<line x1="209.00" y1="270.20" x2="300.10" y2="270.20" stroke="#111" stroke-width="1.3" />
<line x1="210.00" y1="270.20" x2="210.00" y2="273.60" stroke="#111" stroke-width="1.1" />
<text x="209.80" y="284.60" font-size="7.6" text-anchor="middle">10<tspan dy="-2.8" font-size="5">0</tspan></text>
<line x1="216.41" y1="270.20" x2="216.41" y2="272.20" stroke="#1a1a1a" stroke-width="0.7" />
<line x1="220.39" y1="270.20" x2="220.39" y2="272.20" stroke="#1a1a1a" stroke-width="0.7" />
<line x1="223.22" y1="270.20" x2="223.22" y2="272.20" stroke="#1a1a1a" stroke-width="0.7" />
<line x1="225.41" y1="270.20" x2="225.41" y2="272.20" stroke="#1a1a1a" stroke-width="0.7" />
<line x1="227.21" y1="270.20" x2="227.21" y2="272.20" stroke="#1a1a1a" stroke-width="0.7" />
<line x1="228.72" y1="270.20" x2="228.72" y2="272.20" stroke="#1a1a1a" stroke-width="0.7" />
<line x1="230.03" y1="270.20" x2="230.03" y2="272.20" stroke="#1a1a1a" stroke-width="0.7" />
<line x1="231.19" y1="270.20" x2="231.19" y2="272.20" stroke="#1a1a1a" stroke-width="0.7" />
<line x1="232.62" y1="270.20" x2="232.62" y2="273.60" stroke="#111" stroke-width="1.1" />
<text x="232.42" y="284.60" font-size="7.6" text-anchor="middle">10<tspan dy="-2.8" font-size="5">1</tspan></text>
<line x1="239.04" y1="270.20" x2="239.04" y2="272.20" stroke="#1a1a1a" stroke-width="0.7" />
<line x1="243.02" y1="270.20" x2="243.02" y2="272.20" stroke="#1a1a1a" stroke-width="0.7" />
<line x1="245.85" y1="270.20" x2="245.85" y2="272.20" stroke="#1a1a1a" stroke-width="0.7" />
<line x1="248.04" y1="270.20" x2="248.04" y2="272.20" stroke="#1a1a1a" stroke-width="0.7" />
<line x1="249.83" y1="270.20" x2="249.83" y2="272.20" stroke="#1a1a1a" stroke-width="0.7" />
<line x1="251.35" y1="270.20" x2="251.35" y2="272.20" stroke="#1a1a1a" stroke-width="0.7" />
<line x1="252.66" y1="270.20" x2="252.66" y2="272.20" stroke="#1a1a1a" stroke-width="0.7" />
<line x1="253.81" y1="270.20" x2="253.81" y2="272.20" stroke="#1a1a1a" stroke-width="0.7" />
<line x1="255.25" y1="270.20" x2="255.25" y2="273.60" stroke="#111" stroke-width="1.1" />
<text x="255.05" y="284.60" font-size="7.6" text-anchor="middle">10<tspan dy="-2.8" font-size="5">2</tspan></text>
<line x1="261.66" y1="270.20" x2="261.66" y2="272.20" stroke="#1a1a1a" stroke-width="0.7" />
<line x1="265.64" y1="270.20" x2="265.64" y2="272.20" stroke="#1a1a1a" stroke-width="0.7" />
<line x1="268.47" y1="270.20" x2="268.47" y2="272.20" stroke="#1a1a1a" stroke-width="0.7" />
<line x1="270.66" y1="270.20" x2="270.66" y2="272.20" stroke="#1a1a1a" stroke-width="0.7" />
<line x1="272.46" y1="270.20" x2="272.46" y2="272.20" stroke="#1a1a1a" stroke-width="0.7" />
<line x1="273.97" y1="270.20" x2="273.97" y2="272.20" stroke="#1a1a1a" stroke-width="0.7" />
<line x1="275.28" y1="270.20" x2="275.28" y2="272.20" stroke="#1a1a1a" stroke-width="0.7" />
<line x1="276.44" y1="270.20" x2="276.44" y2="272.20" stroke="#1a1a1a" stroke-width="0.7" />
<line x1="277.88" y1="270.20" x2="277.88" y2="273.60" stroke="#111" stroke-width="1.1" />
<text x="277.68" y="284.60" font-size="7.6" text-anchor="middle">10<tspan dy="-2.8" font-size="5">3</tspan></text>
<line x1="284.29" y1="270.20" x2="284.29" y2="272.20" stroke="#1a1a1a" stroke-width="0.7" />
<line x1="288.27" y1="270.20" x2="288.27" y2="272.20" stroke="#1a1a1a" stroke-width="0.7" />
<line x1="291.10" y1="270.20" x2="291.10" y2="272.20" stroke="#1a1a1a" stroke-width="0.7" />
<line x1="293.29" y1="270.20" x2="293.29" y2="272.20" stroke="#1a1a1a" stroke-width="0.7" />
<line x1="295.08" y1="270.20" x2="295.08" y2="272.20" stroke="#1a1a1a" stroke-width="0.7" />
<line x1="296.60" y1="270.20" x2="296.60" y2="272.20" stroke="#1a1a1a" stroke-width="0.7" />
<line x1="297.91" y1="270.20" x2="297.91" y2="272.20" stroke="#1a1a1a" stroke-width="0.7" />
<line x1="299.06" y1="270.20" x2="299.06" y2="272.20" stroke="#1a1a1a" stroke-width="0.7" />
<line x1="300.50" y1="270.20" x2="300.50" y2="273.60" stroke="#111" stroke-width="1.1" />
<text x="300.30" y="284.60" font-size="7.6" text-anchor="middle">10<tspan dy="-2.8" font-size="5">4</tspan></text>
<text x="179.40" y="224.50" font-size="8.6" text-anchor="middle" textLength="55.00" lengthAdjust="spacingAndGlyphs" transform="rotate(-90 179.40 224.50)">Platelet counts</text>
<text x="209.50" y="298.00" font-size="8.8" textLength="95.50" lengthAdjust="spacingAndGlyphs">Integrin α<tspan dy="2" font-size="6.8" fill="#444">IIb</tspan><tspan dy="-2">β</tspan><tspan dy="2" font-size="6.8">3</tspan><tspan dy="-2"> expression</tspan></text>
<line x1="215.00" y1="178.20" x2="229.00" y2="178.20" stroke="#b8b8b8" stroke-width="1.4" />
<text x="233.80" y="180.90" font-size="7.5" textLength="35.50" lengthAdjust="spacingAndGlyphs">WT resting</text>
<line x1="215.00" y1="187.80" x2="229.00" y2="187.80" stroke="#444" stroke-width="1.0" stroke-dasharray="1.7 0.9"/>
<text x="233.80" y="190.50" font-size="7.5" textLength="43.00" lengthAdjust="spacingAndGlyphs"><tspan font-style="italic">Src</tspan><tspan dy="-2.6" font-size="4.6">−/−</tspan><tspan dy="2.6"> resting</tspan></text>
<line x1="215.00" y1="197.40" x2="229.00" y2="197.40" stroke="#000" stroke-width="1.7" />
<text x="233.80" y="200.10" font-size="7.5" textLength="41.00" lengthAdjust="spacingAndGlyphs">WT CHP-PE</text>
<line x1="215.00" y1="207.00" x2="229.00" y2="207.00" stroke="#000" stroke-width="1.6" stroke-dasharray="2.2 1.2"/>
<text x="233.80" y="209.70" font-size="7.5" textLength="48.50" lengthAdjust="spacingAndGlyphs"><tspan font-style="italic">Src</tspan><tspan dy="-2.6" font-size="4.6">−/−</tspan><tspan dy="2.6"> CHP-PE</tspan></text>
<text x="342.50" y="203.15" font-size="7.8" text-anchor="middle" fill="#333">−</text>
<text x="366.30" y="203.15" font-size="7.8" text-anchor="middle" fill="#333">−</text>
<text x="387.50" y="203.10" font-size="7.6" text-anchor="middle" fill="#222">+</text>
<text x="409.50" y="203.10" font-size="7.6" text-anchor="middle" fill="#222">+</text>
<text x="342.50" y="212.85" font-size="7.8" text-anchor="middle" fill="#333">−</text>
<text x="366.30" y="212.80" font-size="7.6" text-anchor="middle" fill="#222">+</text>
<text x="387.50" y="212.85" font-size="7.8" text-anchor="middle" fill="#333">−</text>
<text x="409.50" y="212.80" font-size="7.6" text-anchor="middle" fill="#222">+</text>
<text x="424.50" y="203.40" font-size="8.3" textLength="15.50" lengthAdjust="spacingAndGlyphs">PP2</text>
<text x="424.50" y="213.20" font-size="8.3" textLength="31.00" lengthAdjust="spacingAndGlyphs">CEP-PE</text>
<rect x="328.40" y="217.60" width="93.90" height="16.20" fill="#f2f2f2" stroke="#2a2a2a" stroke-width="1" />
<rect x="332.60" y="224.00" width="20.50" height="4.40" rx="2.20" fill="#000" opacity="0.34" filter="url(#b2)"/>
<rect x="333.60" y="225.05" width="18.50" height="2.30" rx="1.15" fill="#000" opacity="0.85" filter="url(#b1)"/>
<rect x="357.20" y="224.35" width="19.00" height="4.90" rx="2.45" fill="#000" opacity="0.37" filter="url(#b2)"/>
<rect x="358.20" y="225.40" width="17.00" height="2.80" rx="1.40" fill="#000" opacity="0.92" filter="url(#b1)"/>
<rect x="380.00" y="224.10" width="17.60" height="4.80" rx="2.40" fill="#000" opacity="0.35" filter="url(#b2)"/>
<rect x="381.00" y="225.15" width="15.60" height="2.70" rx="1.35" fill="#000" opacity="0.88" filter="url(#b1)"/>
<rect x="402.00" y="225.90" width="15.50" height="2.40" rx="1.20" fill="#000" opacity="0.32" filter="url(#b2)"/>
<rect x="410.40" y="224.60" width="8.20" height="4.40" rx="2.20" fill="#000" opacity="0.28" filter="url(#b2)"/>
<rect x="411.40" y="225.65" width="6.20" height="2.30" rx="1.15" fill="#000" opacity="0.70" filter="url(#b1)"/>
<text x="425.00" y="229.90" font-size="8.4" textLength="20.50" lengthAdjust="spacingAndGlyphs">p-Src</text>
<rect x="328.40" y="236.30" width="93.90" height="15.60" fill="#f4f4f4" stroke="#2a2a2a" stroke-width="1" />
<rect x="332.20" y="240.50" width="21.50" height="7.40" rx="3.70" fill="#000" opacity="0.39" filter="url(#b2)"/>
<rect x="333.20" y="241.55" width="19.50" height="5.30" rx="2.65" fill="#000" opacity="0.97" filter="url(#b1)"/>
<rect x="357.40" y="240.90" width="20.10" height="6.80" rx="3.40" fill="#000" opacity="0.39" filter="url(#b2)"/>
<rect x="358.40" y="241.95" width="18.10" height="4.70" rx="2.35" fill="#000" opacity="0.97" filter="url(#b1)"/>
<rect x="380.40" y="240.20" width="19.00" height="7.60" rx="3.80" fill="#000" opacity="0.39" filter="url(#b2)"/>
<rect x="381.40" y="241.25" width="17.00" height="5.50" rx="2.75" fill="#000" opacity="0.97" filter="url(#b1)"/>
<rect x="402.20" y="240.80" width="17.20" height="6.80" rx="3.40" fill="#000" opacity="0.39" filter="url(#b2)"/>
<rect x="403.20" y="241.85" width="15.20" height="4.70" rx="2.35" fill="#000" opacity="0.97" filter="url(#b1)"/>
<text x="425.00" y="246.30" font-size="8.4" textLength="12.00" lengthAdjust="spacingAndGlyphs">Src</text>
<rect x="328.40" y="254.20" width="93.90" height="16.30" fill="#f4f4f4" stroke="#2a2a2a" stroke-width="1" />
<rect x="331.30" y="259.30" width="23.70" height="7.40" rx="3.70" fill="#000" opacity="0.39" filter="url(#b2)"/>
<rect x="332.30" y="260.35" width="21.70" height="5.30" rx="2.65" fill="#000" opacity="0.97" filter="url(#b1)"/>
<rect x="356.30" y="259.55" width="21.20" height="6.90" rx="3.45" fill="#000" opacity="0.39" filter="url(#b2)"/>
<rect x="357.30" y="260.60" width="19.20" height="4.80" rx="2.40" fill="#000" opacity="0.97" filter="url(#b1)"/>
<rect x="379.40" y="259.35" width="20.60" height="6.90" rx="3.45" fill="#000" opacity="0.39" filter="url(#b2)"/>
<rect x="380.40" y="260.40" width="18.60" height="4.80" rx="2.40" fill="#000" opacity="0.97" filter="url(#b1)"/>
<rect x="400.70" y="259.75" width="18.70" height="6.90" rx="3.45" fill="#000" opacity="0.39" filter="url(#b2)"/>
<rect x="401.70" y="260.80" width="16.70" height="4.80" rx="2.40" fill="#000" opacity="0.97" filter="url(#b1)"/>
<text x="425.00" y="265.00" font-size="8.4" textLength="18.50" lengthAdjust="spacingAndGlyphs">Actin</text>
<text x="46.40" y="338.90" font-size="8.3" text-anchor="middle" textLength="12.00" lengthAdjust="spacingAndGlyphs">WT</text>
<text x="81.30" y="339.60" font-size="8.3" textLength="21.00" lengthAdjust="spacingAndGlyphs"><tspan font-style="italic">Lyn</tspan><tspan dy="-3" font-size="5">−/−</tspan></text>
<line x1="32.00" y1="344.50" x2="62.50" y2="344.50" stroke="#1a1a1a" stroke-width="1.35" />
<line x1="72.50" y1="344.50" x2="103.00" y2="344.50" stroke="#1a1a1a" stroke-width="1.35" />
<text x="40.00" y="353.95" font-size="7.8" text-anchor="middle" fill="#333">−</text>
<text x="57.00" y="353.90" font-size="7.6" text-anchor="middle" fill="#222">+</text>
<text x="76.30" y="353.95" font-size="7.8" text-anchor="middle" fill="#333">−</text>
<text x="94.50" y="353.90" font-size="7.6" text-anchor="middle" fill="#222">+</text>
<text x="105.00" y="354.60" font-size="8.4" textLength="31.70" lengthAdjust="spacingAndGlyphs">CHP-PE</text>
<rect x="19.00" y="357.40" width="94.40" height="16.80" fill="#fbfbfb" stroke="#111" stroke-width="1.1" />
<rect x="31.30" y="363.90" width="16.20" height="4.40" rx="2.20" fill="#000" opacity="0.38" filter="url(#b2)"/>
<rect x="32.30" y="364.95" width="14.20" height="2.30" rx="1.15" fill="#000" opacity="0.95" filter="url(#b1)"/>
<rect x="49.40" y="363.70" width="15.80" height="5.40" rx="2.70" fill="#000" opacity="0.39" filter="url(#b2)"/>
<rect x="50.40" y="364.75" width="13.80" height="3.30" rx="1.65" fill="#000" opacity="0.98" filter="url(#b1)"/>
<rect x="68.80" y="364.65" width="13.70" height="1.50" rx="0.75" fill="#000" opacity="0.2" filter="url(#b2)"/>
<rect x="87.00" y="364.65" width="15.00" height="1.50" rx="0.75" fill="#000" opacity="0.14" filter="url(#b2)"/>
<text x="117.00" y="369.20" font-size="8.4" textLength="20.50" lengthAdjust="spacingAndGlyphs">p-Src</text>
<rect x="19.00" y="374.90" width="94.40" height="16.20" fill="#fbfbfb" stroke="#111" stroke-width="1.1" />
<rect x="29.20" y="380.40" width="16.40" height="4.80" rx="2.40" fill="#000" opacity="0.38" filter="url(#b2)"/>
<rect x="30.20" y="381.45" width="14.40" height="2.70" rx="1.35" fill="#000" opacity="0.95" filter="url(#b1)"/>
<rect x="48.40" y="380.50" width="16.00" height="4.80" rx="2.40" fill="#000" opacity="0.38" filter="url(#b2)"/>
<rect x="49.40" y="381.55" width="14.00" height="2.70" rx="1.35" fill="#000" opacity="0.95" filter="url(#b1)"/>
<rect x="67.00" y="380.55" width="16.70" height="4.90" rx="2.45" fill="#000" opacity="0.38" filter="url(#b2)"/>
<rect x="68.00" y="381.60" width="14.70" height="2.80" rx="1.40" fill="#000" opacity="0.95" filter="url(#b1)"/>
<rect x="85.70" y="380.60" width="16.20" height="4.40" rx="2.20" fill="#000" opacity="0.38" filter="url(#b2)"/>
<rect x="86.70" y="381.65" width="14.20" height="2.30" rx="1.15" fill="#000" opacity="0.95" filter="url(#b1)"/>
<text x="116.20" y="387.20" font-size="8.4" textLength="12.00" lengthAdjust="spacingAndGlyphs">Src</text>
<rect x="19.00" y="393.30" width="94.40" height="16.50" fill="#fbfbfb" stroke="#111" stroke-width="1.1" />
<rect x="26.30" y="399.55" width="22.50" height="5.10" rx="2.55" fill="#000" opacity="0.39" filter="url(#b2)"/>
<rect x="27.30" y="400.60" width="20.50" height="3.00" rx="1.50" fill="#000" opacity="0.97" filter="url(#b1)"/>
<rect x="49.40" y="399.65" width="20.00" height="5.10" rx="2.55" fill="#000" opacity="0.39" filter="url(#b2)"/>
<rect x="50.40" y="400.70" width="18.00" height="3.00" rx="1.50" fill="#000" opacity="0.97" filter="url(#b1)"/>
<rect x="70.90" y="399.85" width="17.90" height="6.30" rx="3.15" fill="#000" opacity="0.39" filter="url(#b2)"/>
<rect x="71.90" y="400.90" width="15.90" height="4.20" rx="2.10" fill="#000" opacity="0.97" filter="url(#b1)"/>
<rect x="89.40" y="399.85" width="20.00" height="6.30" rx="3.15" fill="#000" opacity="0.39" filter="url(#b2)"/>
<rect x="90.40" y="400.90" width="18.00" height="4.20" rx="2.10" fill="#000" opacity="0.97" filter="url(#b1)"/>
<text x="117.00" y="405.00" font-size="8.4" textLength="18.50" lengthAdjust="spacingAndGlyphs">Actin</text>
<text x="186.30" y="339.40" font-size="8.3" text-anchor="middle" textLength="12.50" lengthAdjust="spacingAndGlyphs">WT</text>
<text x="221.30" y="337.60" font-size="7.6" textLength="20.00" lengthAdjust="spacingAndGlyphs"><tspan font-style="italic">Src</tspan><tspan dy="-3" font-size="5">−/−</tspan></text>
<line x1="172.50" y1="342.60" x2="203.80" y2="342.60" stroke="#1a1a1a" stroke-width="1.35" />
<line x1="213.00" y1="342.60" x2="243.80" y2="342.60" stroke="#1a1a1a" stroke-width="1.35" />
<text x="177.00" y="351.45" font-size="7.8" text-anchor="middle" fill="#333">−</text>
<text x="198.00" y="351.40" font-size="7.6" text-anchor="middle" fill="#222">+</text>
<text x="217.50" y="351.45" font-size="7.8" text-anchor="middle" fill="#333">−</text>
<text x="237.50" y="351.40" font-size="7.6" text-anchor="middle" fill="#222">+</text>
<text x="248.80" y="351.70" font-size="8.3" textLength="30.70" lengthAdjust="spacingAndGlyphs">CHP-PE</text>
<rect x="161.20" y="353.80" width="95.00" height="16.50" fill="#e5e5e5" stroke="#1a1a1a" stroke-width="1" />
<rect x="167.40" y="360.00" width="17.60" height="5.80" rx="2.90" fill="#000" opacity="0.39" filter="url(#b2)"/>
<rect x="168.40" y="361.05" width="15.60" height="3.70" rx="1.85" fill="#000" opacity="0.98" filter="url(#b1)"/>
<rect x="188.40" y="359.50" width="17.60" height="6.40" rx="3.20" fill="#000" opacity="0.39" filter="url(#b2)"/>
<rect x="189.40" y="360.55" width="15.60" height="4.30" rx="2.15" fill="#000" opacity="0.98" filter="url(#b1)"/>
<rect x="212.00" y="361.95" width="14.00" height="2.50" rx="1.25" fill="#000" opacity="0.05" filter="url(#b2)"/>
<rect x="232.00" y="361.95" width="14.00" height="2.50" rx="1.25" fill="#000" opacity="0.05" filter="url(#b2)"/>
<text x="258.50" y="364.20" font-size="8.4" textLength="19.00" lengthAdjust="spacingAndGlyphs">p-Src</text>
<rect x="161.20" y="373.50" width="95.00" height="16.80" fill="#e8e8e8" stroke="#1a1a1a" stroke-width="1" />
<rect x="167.20" y="377.80" width="19.00" height="7.00" rx="3.50" fill="#000" opacity="0.39" filter="url(#b2)"/>
<rect x="168.20" y="378.85" width="17.00" height="4.90" rx="2.45" fill="#000" opacity="0.98" filter="url(#b1)"/>
<rect x="189.70" y="378.70" width="17.70" height="6.40" rx="3.20" fill="#000" opacity="0.39" filter="url(#b2)"/>
<rect x="190.70" y="379.75" width="15.70" height="4.30" rx="2.15" fill="#000" opacity="0.98" filter="url(#b1)"/>
<rect x="168.00" y="384.75" width="38.00" height="3.50" rx="1.75" fill="#000" opacity="0.1" filter="url(#b2)"/>
<text x="258.50" y="384.90" font-size="8.4" textLength="12.00" lengthAdjust="spacingAndGlyphs">Src</text>
<rect x="161.20" y="393.20" width="95.00" height="12.80" fill="#ededed" stroke="#1a1a1a" stroke-width="1" />
<rect x="169.30" y="398.85" width="21.30" height="5.10" rx="2.55" fill="#000" opacity="0.39" filter="url(#b2)"/>
<rect x="170.30" y="399.90" width="19.30" height="3.00" rx="1.50" fill="#000" opacity="0.97" filter="url(#b1)"/>
<rect x="191.10" y="398.85" width="19.50" height="5.10" rx="2.55" fill="#000" opacity="0.39" filter="url(#b2)"/>
<rect x="192.10" y="399.90" width="17.50" height="3.00" rx="1.50" fill="#000" opacity="0.97" filter="url(#b1)"/>
<rect x="211.10" y="398.85" width="19.00" height="5.10" rx="2.55" fill="#000" opacity="0.39" filter="url(#b2)"/>
<rect x="212.10" y="399.90" width="17.00" height="3.00" rx="1.50" fill="#000" opacity="0.97" filter="url(#b1)"/>
<rect x="230.40" y="398.85" width="18.70" height="5.10" rx="2.55" fill="#000" opacity="0.39" filter="url(#b2)"/>
<rect x="231.40" y="399.90" width="16.70" height="3.00" rx="1.50" fill="#000" opacity="0.97" filter="url(#b1)"/>
<line x1="173.00" y1="396.50" x2="173.40" y2="399.50" stroke="#777" stroke-width="0.7" />
<line x1="186.50" y1="396.50" x2="186.90" y2="399.50" stroke="#777" stroke-width="0.7" />
<line x1="193.50" y1="396.50" x2="193.90" y2="399.50" stroke="#777" stroke-width="0.7" />
<line x1="207.00" y1="396.50" x2="207.40" y2="399.50" stroke="#777" stroke-width="0.7" />
<line x1="214.00" y1="396.50" x2="214.40" y2="399.50" stroke="#777" stroke-width="0.7" />
<text x="258.50" y="402.90" font-size="8.4" textLength="18.50" lengthAdjust="spacingAndGlyphs">Actin</text>
<text x="322.50" y="341.00" font-size="8.3" text-anchor="middle" textLength="12.50" lengthAdjust="spacingAndGlyphs">IgG</text>
<text x="349.50" y="341.00" font-size="8.3" textLength="19.00" lengthAdjust="spacingAndGlyphs">TLR2</text>
<text x="374.40" y="341.00" font-size="8.3" textLength="9.80" lengthAdjust="spacingAndGlyphs">Ab</text>
<line x1="307.50" y1="343.80" x2="338.80" y2="343.80" stroke="#1a1a1a" stroke-width="1.35" />
<line x1="350.50" y1="343.80" x2="381.50" y2="343.80" stroke="#1a1a1a" stroke-width="1.35" />
<text x="312.50" y="351.65" font-size="7.8" text-anchor="middle" fill="#333">−</text>
<text x="333.00" y="351.60" font-size="7.6" text-anchor="middle" fill="#222">+</text>
<text x="356.30" y="351.65" font-size="7.8" text-anchor="middle" fill="#333">−</text>
<text x="377.50" y="351.60" font-size="7.6" text-anchor="middle" fill="#222">+</text>
<text x="387.60" y="352.00" font-size="8.3" textLength="30.20" lengthAdjust="spacingAndGlyphs">CEP-PE</text>
<rect x="298.10" y="355.80" width="95.50" height="16.20" fill="#fbfbfb" stroke="#111" stroke-width="1.1" />
<rect x="301.70" y="362.00" width="18.90" height="4.00" rx="2.00" fill="#000" opacity="0.38" filter="url(#b2)"/>
<rect x="302.70" y="363.05" width="16.90" height="1.90" rx="0.95" fill="#000" opacity="0.95" filter="url(#b1)"/>
<rect x="325.00" y="361.90" width="18.40" height="4.80" rx="2.40" fill="#000" opacity="0.38" filter="url(#b2)"/>
<rect x="326.00" y="362.95" width="16.40" height="2.70" rx="1.35" fill="#000" opacity="0.95" filter="url(#b1)"/>
<rect x="347.50" y="362.60" width="17.50" height="4.20" rx="2.10" fill="#000" opacity="0.38" filter="url(#b2)"/>
<rect x="348.50" y="363.65" width="15.50" height="2.10" rx="1.05" fill="#000" opacity="0.95" filter="url(#b1)"/>
<rect x="369.20" y="362.20" width="18.90" height="4.60" rx="2.30" fill="#000" opacity="0.38" filter="url(#b2)"/>
<rect x="370.20" y="363.25" width="16.90" height="2.50" rx="1.25" fill="#000" opacity="0.95" filter="url(#b1)"/>
<text x="396.30" y="366.70" font-size="8.4" textLength="20.50" lengthAdjust="spacingAndGlyphs">p-Src</text>
<rect x="298.10" y="373.90" width="95.50" height="16.20" fill="#fbfbfb" stroke="#111" stroke-width="1.1" />
<rect x="302.40" y="380.80" width="19.50" height="4.80" rx="2.40" fill="#000" opacity="0.38" filter="url(#b2)"/>
<rect x="303.40" y="381.85" width="17.50" height="2.70" rx="1.35" fill="#000" opacity="0.95" filter="url(#b1)"/>
<rect x="324.40" y="381.05" width="19.20" height="4.30" rx="2.15" fill="#000" opacity="0.38" filter="url(#b2)"/>
<rect x="325.40" y="382.10" width="17.20" height="2.20" rx="1.10" fill="#000" opacity="0.95" filter="url(#b1)"/>
<rect x="347.10" y="380.65" width="19.10" height="5.10" rx="2.55" fill="#000" opacity="0.38" filter="url(#b2)"/>
<rect x="348.10" y="381.70" width="17.10" height="3.00" rx="1.50" fill="#000" opacity="0.95" filter="url(#b1)"/>
<rect x="368.80" y="380.85" width="19.90" height="4.50" rx="2.25" fill="#000" opacity="0.38" filter="url(#b2)"/>
<rect x="369.80" y="381.90" width="17.90" height="2.40" rx="1.20" fill="#000" opacity="0.95" filter="url(#b1)"/>
<text x="396.30" y="385.40" font-size="8.4" textLength="12.00" lengthAdjust="spacingAndGlyphs">Src</text>
<rect x="298.10" y="392.30" width="95.50" height="17.30" fill="#fbfbfb" stroke="#111" stroke-width="1.1" />
<rect x="300.20" y="396.00" width="23.40" height="7.40" rx="3.70" fill="#000" opacity="0.39" filter="url(#b2)"/>
<rect x="301.20" y="397.05" width="21.40" height="5.30" rx="2.65" fill="#000" opacity="0.98" filter="url(#b1)"/>
<rect x="323.00" y="397.05" width="23.20" height="6.90" rx="3.45" fill="#000" opacity="0.39" filter="url(#b2)"/>
<rect x="324.00" y="398.10" width="21.20" height="4.80" rx="2.40" fill="#000" opacity="0.98" filter="url(#b1)"/>
<rect x="346.60" y="397.40" width="23.30" height="7.20" rx="3.60" fill="#000" opacity="0.39" filter="url(#b2)"/>
<rect x="347.60" y="398.45" width="21.30" height="5.10" rx="2.55" fill="#000" opacity="0.98" filter="url(#b1)"/>
<rect x="369.60" y="397.30" width="23.40" height="7.40" rx="3.70" fill="#000" opacity="0.39" filter="url(#b2)"/>
<rect x="370.60" y="398.35" width="21.40" height="5.30" rx="2.65" fill="#000" opacity="0.98" filter="url(#b1)"/>
<text x="396.30" y="404.20" font-size="8.4" textLength="18.50" lengthAdjust="spacingAndGlyphs">Actin</text>
<line x1="467.50" y1="332.30" x2="467.50" y2="410.20" stroke="#111" stroke-width="1.2" />
<line x1="464.40" y1="409.80" x2="512.80" y2="409.80" stroke="#111" stroke-width="1.4" />
<line x1="465.10" y1="335.70" x2="467.50" y2="335.70" stroke="#111" stroke-width="1" />
<text x="461.20" y="338.70" font-size="8.3" text-anchor="end">2</text>
<line x1="465.10" y1="372.60" x2="467.50" y2="372.60" stroke="#111" stroke-width="1" />
<text x="461.20" y="375.60" font-size="8.3" text-anchor="end">1</text>
<line x1="465.10" y1="409.40" x2="467.50" y2="409.40" stroke="#111" stroke-width="1" />
<text x="461.20" y="412.40" font-size="8.3" text-anchor="end">0</text>
<rect x="470.70" y="372.80" width="4.90" height="37.00" fill="#000" />
<rect x="481.90" y="345.60" width="4.50" height="64.20" fill="#000" />
<line x1="484.10" y1="339.80" x2="484.10" y2="346.00" stroke="#111" stroke-width="1.2" />
<rect x="492.90" y="373.80" width="4.60" height="36.00" fill="#000" />
<line x1="495.20" y1="372.40" x2="495.20" y2="374.00" stroke="#111" stroke-width="1.2" />
<rect x="503.80" y="370.60" width="4.70" height="39.20" fill="#000" />
<line x1="506.10" y1="368.00" x2="506.10" y2="371.00" stroke="#111" stroke-width="1.2" />
<line x1="504.90" y1="368.20" x2="507.30" y2="368.20" stroke="#111" stroke-width="0.9" />
<path d="M483.60,337.20 L483.60,334.40 L508.00,334.40 L508.00,337.20" fill="none" stroke="#000" stroke-width="1.1" stroke-linejoin="round" />
<text x="496.20" y="333.00" font-size="8" text-anchor="middle">*</text>
<text x="440.00" y="372.00" font-size="8.4" text-anchor="middle" textLength="81.00" lengthAdjust="spacingAndGlyphs" transform="rotate(-90 440.00 372.00)">Fold increase in p-Src</text>
<text x="451.20" y="372.00" font-size="8.4" text-anchor="middle" textLength="62.50" lengthAdjust="spacingAndGlyphs" transform="rotate(-90 451.20 372.00)">(relative to actin)</text>
<text x="479.30" y="415.20" font-size="7.6" text-anchor="end" letter-spacing="0.12" transform="rotate(-45 479.30 415.20)">Ctr</text>
<text x="489.60" y="415.40" font-size="7.6" text-anchor="end" letter-spacing="0.12" transform="rotate(-45 489.60 415.40)">CEP</text>
<text x="500.40" y="415.20" font-size="7.6" text-anchor="end" letter-spacing="0.12" transform="rotate(-45 500.40 415.20)">Ctr</text>
<text x="510.30" y="415.40" font-size="7.6" text-anchor="end" letter-spacing="0.12" transform="rotate(-45 510.30 415.40)">CEP</text>
<line x1="468.80" y1="427.00" x2="487.80" y2="427.00" stroke="#1a1a1a" stroke-width="1.35" />
<line x1="491.30" y1="427.00" x2="510.00" y2="427.00" stroke="#1a1a1a" stroke-width="1.35" />
<text x="478.90" y="437.00" font-size="7.9" text-anchor="middle" textLength="12.00" lengthAdjust="spacingAndGlyphs">IgG</text>
<text x="500.60" y="436.90" font-size="7.8" text-anchor="middle" textLength="18.70" lengthAdjust="spacingAndGlyphs">TLR2</text>
<text x="41.30" y="478.20" font-size="8.3" text-anchor="middle" textLength="12.50" lengthAdjust="spacingAndGlyphs">IgG</text>
<text x="68.00" y="478.20" font-size="8.3" textLength="32.50" lengthAdjust="spacingAndGlyphs">TLR1 Ab</text>
<line x1="27.00" y1="481.30" x2="57.50" y2="481.30" stroke="#1a1a1a" stroke-width="1.35" />
<line x1="69.30" y1="481.30" x2="100.50" y2="481.30" stroke="#1a1a1a" stroke-width="1.35" />
<text x="30.00" y="492.65" font-size="7.8" text-anchor="middle" fill="#333">−</text>
<text x="50.50" y="492.60" font-size="7.6" text-anchor="middle" fill="#222">+</text>
<text x="73.80" y="492.65" font-size="7.8" text-anchor="middle" fill="#333">−</text>
<text x="97.00" y="492.60" font-size="7.6" text-anchor="middle" fill="#222">+</text>
<text x="112.50" y="493.00" font-size="8.3" textLength="30.50" lengthAdjust="spacingAndGlyphs">CEP-PE</text>
<rect x="17.20" y="495.80" width="94.70" height="16.40" fill="#f8f8f8" stroke="#111" stroke-width="1.1" />
<rect x="21.50" y="502.60" width="16.30" height="2.60" rx="1.30" fill="#000" opacity="0.5" filter="url(#b2)"/>
<rect x="21.50" y="502.50" width="8.50" height="2.40" rx="1.20" fill="#000" opacity="0.45" filter="url(#b1)"/>
<rect x="42.80" y="501.60" width="19.10" height="5.80" rx="2.90" fill="#000" opacity="0.39" filter="url(#b2)"/>
<rect x="43.80" y="502.65" width="17.10" height="3.70" rx="1.85" fill="#000" opacity="0.97" filter="url(#b1)"/>
<rect x="66.60" y="502.45" width="17.10" height="4.50" rx="2.25" fill="#000" opacity="0.34" filter="url(#b2)"/>
<rect x="67.60" y="503.50" width="15.10" height="2.40" rx="1.20" fill="#000" opacity="0.85" filter="url(#b1)"/>
<rect x="91.30" y="503.20" width="16.80" height="2.40" rx="1.20" fill="#000" opacity="0.35" filter="url(#b2)"/>
<rect x="97.40" y="501.90" width="11.50" height="4.40" rx="2.20" fill="#000" opacity="0.32" filter="url(#b2)"/>
<rect x="98.40" y="502.95" width="9.50" height="2.30" rx="1.15" fill="#000" opacity="0.80" filter="url(#b1)"/>
<text x="113.80" y="507.00" font-size="8.4" textLength="20.50" lengthAdjust="spacingAndGlyphs">p-Src</text>
<rect x="17.20" y="516.80" width="94.70" height="16.70" fill="#f4f4f4" stroke="#111" stroke-width="1.1" />
<rect x="22.00" y="519.85" width="16.40" height="6.50" rx="3.25" fill="#000" opacity="0.5" filter="url(#b2)"/>
<rect x="21.40" y="523.20" width="17.60" height="4.60" rx="2.30" fill="#000" opacity="0.32" filter="url(#b2)"/>
<rect x="22.40" y="524.25" width="15.60" height="2.50" rx="1.25" fill="#000" opacity="0.79" filter="url(#b1)"/>
<rect x="43.00" y="520.15" width="18.50" height="6.50" rx="3.25" fill="#000" opacity="0.5" filter="url(#b2)"/>
<rect x="42.40" y="523.10" width="19.70" height="5.40" rx="2.70" fill="#000" opacity="0.33" filter="url(#b2)"/>
<rect x="43.40" y="524.15" width="17.70" height="3.30" rx="1.65" fill="#000" opacity="0.84" filter="url(#b1)"/>
<rect x="66.90" y="520.35" width="16.90" height="6.50" rx="3.25" fill="#000" opacity="0.5" filter="url(#b2)"/>
<rect x="66.30" y="523.55" width="18.10" height="4.90" rx="2.45" fill="#000" opacity="0.30" filter="url(#b2)"/>
<rect x="67.30" y="524.60" width="16.10" height="2.80" rx="1.40" fill="#000" opacity="0.75" filter="url(#b1)"/>
<rect x="88.10" y="519.85" width="18.80" height="6.50" rx="3.25" fill="#000" opacity="0.5" filter="url(#b2)"/>
<rect x="87.50" y="522.55" width="20.00" height="5.90" rx="2.95" fill="#000" opacity="0.34" filter="url(#b2)"/>
<rect x="88.50" y="523.60" width="18.00" height="3.80" rx="1.90" fill="#000" opacity="0.85" filter="url(#b1)"/>
<text x="113.80" y="528.00" font-size="8.4" textLength="12.00" lengthAdjust="spacingAndGlyphs">Src</text>
<rect x="17.20" y="538.30" width="94.70" height="16.20" fill="#f8f8f8" stroke="#111" stroke-width="1.1" />
<rect x="20.30" y="544.15" width="21.20" height="5.70" rx="2.85" fill="#000" opacity="0.39" filter="url(#b2)"/>
<rect x="21.30" y="545.20" width="19.20" height="3.60" rx="1.80" fill="#000" opacity="0.97" filter="url(#b1)"/>
<rect x="42.20" y="544.35" width="21.80" height="5.70" rx="2.85" fill="#000" opacity="0.39" filter="url(#b2)"/>
<rect x="43.20" y="545.40" width="19.80" height="3.60" rx="1.80" fill="#000" opacity="0.97" filter="url(#b1)"/>
<rect x="65.40" y="544.35" width="21.50" height="5.70" rx="2.85" fill="#000" opacity="0.39" filter="url(#b2)"/>
<rect x="66.40" y="545.40" width="19.50" height="3.60" rx="1.80" fill="#000" opacity="0.97" filter="url(#b1)"/>
<rect x="87.90" y="543.65" width="22.70" height="5.70" rx="2.85" fill="#000" opacity="0.39" filter="url(#b2)"/>
<rect x="88.90" y="544.70" width="20.70" height="3.60" rx="1.80" fill="#000" opacity="0.97" filter="url(#b1)"/>
<text x="113.80" y="550.40" font-size="8.4" textLength="18.50" lengthAdjust="spacingAndGlyphs">Actin</text>
<line x1="197.20" y1="480.60" x2="197.20" y2="557.80" stroke="#111" stroke-width="1.2" />
<line x1="196.60" y1="557.40" x2="241.30" y2="557.40" stroke="#111" stroke-width="1.6" />
<line x1="194.60" y1="483.50" x2="197.20" y2="483.50" stroke="#111" stroke-width="1" />
<text x="191.50" y="486.50" font-size="8.3" text-anchor="end">3</text>
<line x1="194.60" y1="507.30" x2="197.20" y2="507.30" stroke="#111" stroke-width="1" />
<text x="191.50" y="510.30" font-size="8.3" text-anchor="end">2</text>
<line x1="194.60" y1="531.20" x2="197.20" y2="531.20" stroke="#111" stroke-width="1" />
<text x="191.50" y="534.20" font-size="8.3" text-anchor="end">1</text>
<line x1="194.60" y1="555.10" x2="197.20" y2="555.10" stroke="#111" stroke-width="1" />
<text x="191.50" y="558.10" font-size="8.3" text-anchor="end">0</text>
<rect x="200.60" y="530.30" width="4.50" height="27.10" fill="#000" />
<rect x="211.50" y="501.20" width="4.70" height="56.20" fill="#000" />
<rect x="222.30" y="521.30" width="4.60" height="36.10" fill="#000" />
<rect x="233.10" y="530.00" width="4.70" height="27.40" fill="#000" />
<path d="M212.60,496.70 L212.60,494.00 L237.40,494.00 L237.40,496.70" fill="none" stroke="#000" stroke-width="1.1" stroke-linejoin="round" />
<text x="225.20" y="492.50" font-size="8.4" text-anchor="middle" font-weight="bold" textLength="10.00" lengthAdjust="spacingAndGlyphs">***</text>
<text x="170.00" y="519.20" font-size="8.4" text-anchor="middle" textLength="81.30" lengthAdjust="spacingAndGlyphs" transform="rotate(-90 170.00 519.20)">Fold increase in p-Src</text>
<text x="180.60" y="519.20" font-size="8.4" text-anchor="middle" textLength="62.50" lengthAdjust="spacingAndGlyphs" transform="rotate(-90 180.60 519.20)">(relative to actin)</text>
<text x="208.55" y="563.00" font-size="7.6" text-anchor="end" letter-spacing="0.12" transform="rotate(-45 208.55 563.00)">Ctr</text>
<text x="219.50" y="563.40" font-size="7.6" text-anchor="end" letter-spacing="0.12" transform="rotate(-45 219.50 563.40)">CEP</text>
<text x="231.05" y="563.00" font-size="7.6" text-anchor="end" letter-spacing="0.12" transform="rotate(-45 231.05 563.00)">Ctr</text>
<text x="242.00" y="563.40" font-size="7.6" text-anchor="end" letter-spacing="0.12" transform="rotate(-45 242.00 563.40)">CEP</text>
<line x1="198.80" y1="575.00" x2="217.50" y2="575.00" stroke="#1a1a1a" stroke-width="1.35" />
<line x1="220.60" y1="575.00" x2="239.80" y2="575.00" stroke="#1a1a1a" stroke-width="1.35" />
<text x="208.00" y="585.20" font-size="7.8" text-anchor="middle" textLength="11.50" lengthAdjust="spacingAndGlyphs">IgG</text>
<text x="230.00" y="585.20" font-size="7.8" text-anchor="middle" textLength="17.50" lengthAdjust="spacingAndGlyphs">TLR1</text>
<text x="301.90" y="482.30" font-size="8.3" text-anchor="middle" textLength="11.30" lengthAdjust="spacingAndGlyphs">CP</text>
<text x="326.30" y="482.30" font-size="8.3" textLength="38.20" lengthAdjust="spacingAndGlyphs">MyD88BP</text>
<line x1="288.80" y1="484.60" x2="319.50" y2="484.60" stroke="#1a1a1a" stroke-width="1.35" />
<line x1="328.80" y1="484.60" x2="361.30" y2="484.60" stroke="#1a1a1a" stroke-width="1.35" />
<text x="294.50" y="492.85" font-size="7.8" text-anchor="middle" fill="#333">−</text>
<text x="314.30" y="492.80" font-size="7.6" text-anchor="middle" fill="#222">+</text>
<text x="336.30" y="492.85" font-size="7.8" text-anchor="middle" fill="#333">−</text>
<text x="356.30" y="492.80" font-size="7.6" text-anchor="middle" fill="#222">+</text>
<text x="375.00" y="493.20" font-size="8.3" textLength="30.50" lengthAdjust="spacingAndGlyphs">CEP-PE</text>
<rect x="280.90" y="495.50" width="95.20" height="16.50" fill="#e8e8e8" stroke="#111" stroke-width="1.1" />
<rect x="285.80" y="501.20" width="16.00" height="3.60" rx="1.80" fill="#000" opacity="0.62" filter="url(#b2)"/>
<rect x="306.80" y="501.00" width="16.20" height="5.00" rx="2.50" fill="#000" opacity="0.78" filter="url(#b2)"/>
<rect x="307.50" y="503.60" width="15.00" height="2.00" rx="1.00" fill="#000" opacity="0.35" filter="url(#b1)"/>
<rect x="328.30" y="501.50" width="17.20" height="4.00" rx="2.00" fill="#000" opacity="0.55" filter="url(#b2)"/>
<rect x="350.80" y="501.00" width="17.20" height="4.00" rx="2.00" fill="#000" opacity="0.25" filter="url(#b2)"/>
<text x="377.80" y="505.40" font-size="8.4" textLength="20.50" lengthAdjust="spacingAndGlyphs">p-Src</text>
<rect x="280.90" y="516.40" width="95.20" height="17.10" fill="#f4f4f4" stroke="#111" stroke-width="1.1" />
<rect x="284.30" y="522.30" width="19.90" height="6.40" rx="3.20" fill="#000" opacity="0.38" filter="url(#b2)"/>
<rect x="285.30" y="523.35" width="17.90" height="4.30" rx="2.15" fill="#000" opacity="0.95" filter="url(#b1)"/>
<rect x="305.90" y="522.40" width="20.00" height="6.40" rx="3.20" fill="#000" opacity="0.38" filter="url(#b2)"/>
<rect x="306.90" y="523.45" width="18.00" height="4.30" rx="2.15" fill="#000" opacity="0.95" filter="url(#b1)"/>
<rect x="328.90" y="522.60" width="18.70" height="5.80" rx="2.90" fill="#000" opacity="0.38" filter="url(#b2)"/>
<rect x="329.90" y="523.65" width="16.70" height="3.70" rx="1.85" fill="#000" opacity="0.95" filter="url(#b1)"/>
<rect x="351.40" y="522.35" width="20.20" height="4.90" rx="2.45" fill="#000" opacity="0.38" filter="url(#b2)"/>
<rect x="352.40" y="523.40" width="18.20" height="2.80" rx="1.40" fill="#000" opacity="0.95" filter="url(#b1)"/>
<text x="377.80" y="527.50" font-size="8.4" textLength="12.00" lengthAdjust="spacingAndGlyphs">Src</text>
<rect x="280.90" y="538.30" width="95.20" height="16.20" fill="#f6f6f6" stroke="#111" stroke-width="1.1" />
<rect x="283.40" y="544.50" width="20.80" height="4.20" rx="2.10" fill="#000" opacity="0.39" filter="url(#b2)"/>
<rect x="284.40" y="545.55" width="18.80" height="2.10" rx="1.05" fill="#000" opacity="0.97" filter="url(#b1)"/>
<rect x="305.20" y="544.60" width="20.40" height="4.20" rx="2.10" fill="#000" opacity="0.39" filter="url(#b2)"/>
<rect x="306.20" y="545.65" width="18.40" height="2.10" rx="1.05" fill="#000" opacity="0.97" filter="url(#b1)"/>
<rect x="327.20" y="544.40" width="20.80" height="4.40" rx="2.20" fill="#000" opacity="0.39" filter="url(#b2)"/>
<rect x="328.20" y="545.45" width="18.80" height="2.30" rx="1.15" fill="#000" opacity="0.97" filter="url(#b1)"/>
<rect x="350.20" y="544.30" width="21.40" height="4.20" rx="2.10" fill="#000" opacity="0.39" filter="url(#b2)"/>
<rect x="351.20" y="545.35" width="19.40" height="2.10" rx="1.05" fill="#000" opacity="0.97" filter="url(#b1)"/>
<text x="377.80" y="548.50" font-size="8.4" textLength="18.50" lengthAdjust="spacingAndGlyphs">Actin</text>
<line x1="467.50" y1="478.00" x2="467.50" y2="555.20" stroke="#111" stroke-width="1.2" />
<line x1="464.40" y1="554.80" x2="511.30" y2="554.80" stroke="#111" stroke-width="1.4" />
<line x1="465.10" y1="481.30" x2="467.50" y2="481.30" stroke="#111" stroke-width="1" />
<text x="461.20" y="484.30" font-size="8.3" text-anchor="end">3</text>
<line x1="465.10" y1="506.00" x2="467.50" y2="506.00" stroke="#111" stroke-width="1" />
<text x="461.20" y="509.00" font-size="8.3" text-anchor="end">2</text>
<line x1="465.10" y1="530.30" x2="467.50" y2="530.30" stroke="#111" stroke-width="1" />
<text x="461.20" y="533.30" font-size="8.3" text-anchor="end">1</text>
<line x1="465.10" y1="554.50" x2="467.50" y2="554.50" stroke="#111" stroke-width="1" />
<text x="461.20" y="557.50" font-size="8.3" text-anchor="end">0</text>
<rect x="471.00" y="530.30" width="4.60" height="24.50" fill="#000" />
<rect x="482.30" y="500.60" width="4.20" height="54.20" fill="#000" />
<line x1="484.40" y1="484.00" x2="484.40" y2="501.00" stroke="#111" stroke-width="0.9" />
<line x1="483.00" y1="484.10" x2="485.80" y2="484.10" stroke="#111" stroke-width="0.9" />
<rect x="493.00" y="531.00" width="4.80" height="23.80" fill="#000" />
<rect x="504.00" y="536.90" width="4.80" height="17.90" fill="#000" />
<line x1="506.40" y1="534.00" x2="506.40" y2="537.20" stroke="#111" stroke-width="1.2" />
<path d="M483.80,482.10 L483.80,479.40 L508.40,479.40 L508.40,482.10" fill="none" stroke="#000" stroke-width="1.1" stroke-linejoin="round" />
<text x="496.30" y="478.00" font-size="8" text-anchor="middle">*</text>
<text x="440.40" y="518.20" font-size="8.4" text-anchor="middle" textLength="81.30" lengthAdjust="spacingAndGlyphs" transform="rotate(-90 440.40 518.20)">Fold increase in p-Src</text>
<text x="451.30" y="518.20" font-size="8.4" text-anchor="middle" textLength="62.50" lengthAdjust="spacingAndGlyphs" transform="rotate(-90 451.30 518.20)">(relative to actin)</text>
<text x="479.20" y="559.90" font-size="7.6" text-anchor="end" letter-spacing="0.12" transform="rotate(-45 479.20 559.90)">Ctr</text>
<text x="490.10" y="560.50" font-size="7.6" text-anchor="end" letter-spacing="0.12" transform="rotate(-45 490.10 560.50)">CEP</text>
<text x="501.05" y="559.90" font-size="7.6" text-anchor="end" letter-spacing="0.12" transform="rotate(-45 501.05 559.90)">Ctr</text>
<text x="511.60" y="560.50" font-size="7.6" text-anchor="end" letter-spacing="0.12" transform="rotate(-45 511.60 560.50)">CEP</text>
<line x1="469.00" y1="572.20" x2="488.00" y2="572.20" stroke="#1a1a1a" stroke-width="1.35" />
<line x1="491.30" y1="572.20" x2="510.00" y2="572.20" stroke="#1a1a1a" stroke-width="1.35" />
<text x="478.80" y="582.00" font-size="7.8" text-anchor="middle" textLength="10.50" lengthAdjust="spacingAndGlyphs">CP</text>
<text x="500.60" y="582.00" font-size="7.8" text-anchor="middle" textLength="24.20" lengthAdjust="spacingAndGlyphs">MyD88</text>
<text x="501.30" y="592.00" font-size="7.8" text-anchor="middle" textLength="10.00" lengthAdjust="spacingAndGlyphs">BP</text>
</g>
<rect x="0.5" y="0.5" width="519" height="599" fill="none" stroke="#000" stroke-width="1.2"/>
</svg>
</body></html>
